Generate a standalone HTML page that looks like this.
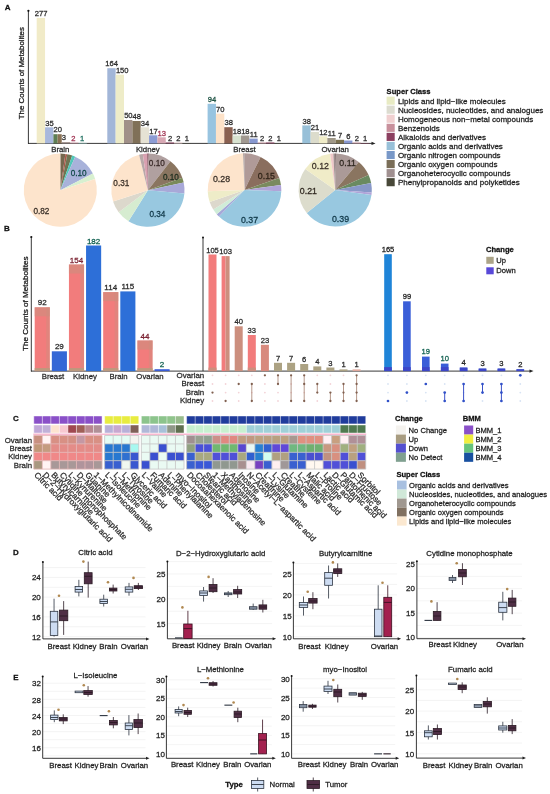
<!DOCTYPE html><html><head><meta charset="utf-8"><style>html,body{margin:0;padding:0;background:#fff;}svg{display:block;filter:blur(0.3px);}text{font-family:"Liberation Sans", sans-serif;stroke:currentColor;stroke-width:0.26px;paint-order:stroke;}</style></head><body>
<svg width="550" height="794" viewBox="0 0 550 794">
<rect x="0.00" y="0.00" width="550.00" height="794.00" fill="#ffffff" />
<text x="4.80" y="9.80" font-size="8" text-anchor="start" font-weight="bold" fill="#111" style="color:#111" >A</text>
<text x="0" y="0" font-size="7.9" text-anchor="middle" fill="#222" transform="translate(24.0,73.2) rotate(-90)">The Counts of Metabolites</text>
<line x1="28.40" y1="10.80" x2="28.40" y2="143.80" stroke="#222" stroke-width="0.9" />
<circle cx="28.40" cy="10.80" r="1.10" fill="#111"/>
<line x1="28.00" y1="143.40" x2="372.50" y2="143.40" stroke="#222" stroke-width="0.9" />
<path d="M375.5,143.4 L371.5,141.8 L371.5,145.0 Z" fill="#222"/>
<rect x="36.70" y="17.90" width="8.35" height="125.50" fill="#f1ebc8" />
<rect x="45.05" y="127.30" width="8.35" height="16.10" fill="#a8b8dc" />
<rect x="53.40" y="134.20" width="4.17" height="9.20" fill="#5e7e54" />
<rect x="57.58" y="134.20" width="4.17" height="9.20" fill="#8a7254" />
<rect x="61.75" y="142.00" width="8.35" height="1.40" fill="#a89a96" />
<rect x="70.10" y="142.60" width="8.35" height="0.80" fill="#d8a0ac" />
<rect x="78.45" y="142.90" width="8.35" height="0.50" fill="#98d8d0" />
<text x="41.08" y="16.10" font-size="7.6" text-anchor="middle" font-weight="normal" fill="#2a2a2a" style="color:#2a2a2a" >277</text>
<text x="49.43" y="125.50" font-size="7.6" text-anchor="middle" font-weight="normal" fill="#2a2a2a" style="color:#2a2a2a" >35</text>
<text x="57.78" y="132.40" font-size="7.6" text-anchor="middle" font-weight="normal" fill="#2a2a2a" style="color:#2a2a2a" >20</text>
<text x="63.92" y="140.20" font-size="7.6" text-anchor="middle" font-weight="normal" fill="#2a2a2a" style="color:#2a2a2a" >3</text>
<text x="73.27" y="140.80" font-size="7.6" text-anchor="middle" font-weight="normal" fill="#a03050" style="color:#a03050" >2</text>
<text x="82.03" y="141.10" font-size="7.6" text-anchor="middle" font-weight="normal" fill="#207060" style="color:#207060" >1</text>
<text x="60.30" y="151.80" font-size="7.8" text-anchor="middle" font-weight="normal" fill="#2a2a2a" style="color:#2a2a2a" >Brain</text>
<rect x="107.30" y="68.20" width="8.35" height="75.20" fill="#a2b6d8" />
<rect x="115.65" y="74.70" width="8.35" height="68.70" fill="#eeecc8" />
<rect x="124.00" y="120.00" width="8.35" height="23.40" fill="#a09088" />
<rect x="132.35" y="121.00" width="8.35" height="22.40" fill="#807058" />
<rect x="140.70" y="127.30" width="8.35" height="16.10" fill="#e6e2d4" />
<rect x="149.05" y="135.30" width="8.35" height="8.10" fill="#8c9cd4" />
<rect x="157.40" y="137.30" width="8.35" height="6.10" fill="#d8a8b4" />
<rect x="165.75" y="142.50" width="8.35" height="0.90" fill="#8c3a5c" />
<rect x="174.10" y="142.50" width="8.35" height="0.90" fill="#f5d8d8" />
<rect x="182.45" y="143.00" width="8.35" height="0.40" fill="#4a4a3a" />
<text x="111.67" y="66.40" font-size="7.6" text-anchor="middle" font-weight="normal" fill="#2a2a2a" style="color:#2a2a2a" >164</text>
<text x="122.22" y="72.90" font-size="7.6" text-anchor="middle" font-weight="normal" fill="#2a2a2a" style="color:#2a2a2a" >150</text>
<text x="128.38" y="118.20" font-size="7.6" text-anchor="middle" font-weight="normal" fill="#2a2a2a" style="color:#2a2a2a" >50</text>
<text x="136.72" y="119.20" font-size="7.6" text-anchor="middle" font-weight="normal" fill="#2a2a2a" style="color:#2a2a2a" >48</text>
<text x="145.07" y="125.50" font-size="7.6" text-anchor="middle" font-weight="normal" fill="#2a2a2a" style="color:#2a2a2a" >34</text>
<text x="153.43" y="133.50" font-size="7.6" text-anchor="middle" font-weight="normal" fill="#2a2a2a" style="color:#2a2a2a" >17</text>
<text x="161.77" y="135.50" font-size="7.6" text-anchor="middle" font-weight="normal" fill="#a03050" style="color:#a03050" >13</text>
<text x="170.12" y="140.70" font-size="7.6" text-anchor="middle" font-weight="normal" fill="#2a2a2a" style="color:#2a2a2a" >2</text>
<text x="178.47" y="140.70" font-size="7.6" text-anchor="middle" font-weight="normal" fill="#2a2a2a" style="color:#2a2a2a" >2</text>
<text x="186.82" y="141.20" font-size="7.6" text-anchor="middle" font-weight="normal" fill="#2a2a2a" style="color:#2a2a2a" >1</text>
<text x="147.80" y="151.80" font-size="7.8" text-anchor="middle" font-weight="normal" fill="#2a2a2a" style="color:#2a2a2a" >Kidney</text>
<rect x="207.60" y="103.80" width="8.35" height="39.60" fill="#98c4e0" />
<rect x="215.95" y="113.60" width="8.35" height="29.80" fill="#fde2c8" />
<rect x="224.30" y="127.20" width="8.35" height="16.20" fill="#8a6050" />
<rect x="232.65" y="135.50" width="8.35" height="7.90" fill="#d8e2d0" />
<rect x="241.00" y="135.50" width="8.35" height="7.90" fill="#a09890" />
<rect x="249.35" y="138.60" width="8.35" height="4.80" fill="#8898d0" />
<rect x="257.70" y="142.50" width="8.35" height="0.90" fill="#d8a0ac" />
<rect x="266.05" y="142.50" width="8.35" height="0.90" fill="#8c3a5c" />
<rect x="274.40" y="143.00" width="8.35" height="0.40" fill="#4a4a3a" />
<text x="211.97" y="102.00" font-size="7.6" text-anchor="middle" font-weight="normal" fill="#1a5040" style="color:#1a5040" >94</text>
<text x="220.32" y="111.80" font-size="7.6" text-anchor="middle" font-weight="normal" fill="#2a2a2a" style="color:#2a2a2a" >70</text>
<text x="228.67" y="125.40" font-size="7.6" text-anchor="middle" font-weight="normal" fill="#2a2a2a" style="color:#2a2a2a" >38</text>
<text x="237.02" y="133.70" font-size="7.6" text-anchor="middle" font-weight="normal" fill="#2a2a2a" style="color:#2a2a2a" >18</text>
<text x="245.38" y="133.70" font-size="7.6" text-anchor="middle" font-weight="normal" fill="#2a2a2a" style="color:#2a2a2a" >18</text>
<text x="253.72" y="136.80" font-size="7.6" text-anchor="middle" font-weight="normal" fill="#2a2a2a" style="color:#2a2a2a" >11</text>
<text x="262.07" y="140.70" font-size="7.6" text-anchor="middle" font-weight="normal" fill="#2a2a2a" style="color:#2a2a2a" >2</text>
<text x="270.43" y="140.70" font-size="7.6" text-anchor="middle" font-weight="normal" fill="#2a2a2a" style="color:#2a2a2a" >2</text>
<text x="278.77" y="141.20" font-size="7.6" text-anchor="middle" font-weight="normal" fill="#2a2a2a" style="color:#2a2a2a" >1</text>
<text x="244.50" y="151.80" font-size="7.8" text-anchor="middle" font-weight="normal" fill="#2a2a2a" style="color:#2a2a2a" >Breast</text>
<rect x="302.30" y="125.40" width="8.35" height="18.00" fill="#98c0d8" />
<rect x="310.65" y="131.90" width="8.35" height="11.50" fill="#dcdccc" />
<rect x="319.00" y="136.30" width="8.35" height="7.10" fill="#f0ecc8" />
<rect x="327.35" y="138.00" width="8.35" height="5.40" fill="#a09888" />
<rect x="335.70" y="139.80" width="8.35" height="3.60" fill="#7a7050" />
<rect x="344.05" y="140.50" width="8.35" height="2.90" fill="#8898d0" />
<rect x="352.40" y="142.50" width="8.35" height="0.90" fill="#d8a0ac" />
<rect x="360.75" y="143.00" width="8.35" height="0.40" fill="#8c3a5c" />
<text x="306.68" y="123.60" font-size="7.6" text-anchor="middle" font-weight="normal" fill="#2a2a2a" style="color:#2a2a2a" >38</text>
<text x="315.03" y="130.10" font-size="7.6" text-anchor="middle" font-weight="normal" fill="#2a2a2a" style="color:#2a2a2a" >21</text>
<text x="323.38" y="134.50" font-size="7.6" text-anchor="middle" font-weight="normal" fill="#2a2a2a" style="color:#2a2a2a" >12</text>
<text x="331.73" y="136.20" font-size="7.6" text-anchor="middle" font-weight="normal" fill="#2a2a2a" style="color:#2a2a2a" >11</text>
<text x="340.07" y="138.00" font-size="7.6" text-anchor="middle" font-weight="normal" fill="#2a2a2a" style="color:#2a2a2a" >7</text>
<text x="348.43" y="138.70" font-size="7.6" text-anchor="middle" font-weight="normal" fill="#2a2a2a" style="color:#2a2a2a" >6</text>
<text x="356.77" y="140.70" font-size="7.6" text-anchor="middle" font-weight="normal" fill="#2a2a2a" style="color:#2a2a2a" >2</text>
<text x="365.12" y="141.20" font-size="7.6" text-anchor="middle" font-weight="normal" fill="#2a2a2a" style="color:#2a2a2a" >1</text>
<text x="335.20" y="151.80" font-size="7.8" text-anchor="middle" font-weight="normal" fill="#2a2a2a" style="color:#2a2a2a" >Ovarian</text>
<path d="M60.30,190.20 L60.30,153.60 A36.60,36.60 0 0 1 65.39,153.96 Z" fill="#76684f"/>
<path d="M60.30,190.20 L65.39,153.96 A36.60,36.60 0 0 1 67.28,154.27 Z" fill="#a85848"/>
<path d="M60.30,190.20 L67.28,154.27 A36.60,36.60 0 0 1 72.22,155.59 Z" fill="#6e7452"/>
<path d="M60.30,190.20 L72.22,155.59 A36.60,36.60 0 0 1 75.19,156.76 Z" fill="#50c8b8"/>
<path d="M60.30,190.20 L75.19,156.76 A36.60,36.60 0 0 1 92.91,173.58 Z" fill="#a8b2da"/>
<path d="M60.30,190.20 L92.91,173.58 A36.60,36.60 0 0 1 95.11,178.89 Z" fill="#d8f0d0"/>
<path d="M60.30,190.20 L95.11,178.89 A36.60,36.60 0 1 1 60.30,153.60 Z" fill="#fde4cc"/>
<text x="78.60" y="176.30" font-size="8.2" text-anchor="middle" font-weight="normal" fill="#104848" style="color:#104848" >0.10</text>
<text x="41.40" y="214.10" font-size="8.2" text-anchor="middle" font-weight="normal" fill="#3a3028" style="color:#3a3028" >0.82</text>
<path d="M147.90,190.20 L147.90,153.60 A36.60,36.60 0 0 1 148.67,153.61 Z" fill="#6a3040"/>
<path d="M147.90,190.20 L148.67,153.61 A36.60,36.60 0 0 1 170.43,161.36 Z" fill="#b0a0a0"/>
<path d="M147.90,190.20 L170.43,161.36 A36.60,36.60 0 0 1 182.29,177.68 Z" fill="#8a7560"/>
<path d="M147.90,190.20 L182.29,177.68 A36.60,36.60 0 0 1 183.70,182.59 Z" fill="#7a8a5a"/>
<path d="M147.90,190.20 L183.70,182.59 A36.60,36.60 0 0 1 184.36,193.39 Z" fill="#a8a8d8"/>
<path d="M147.90,190.20 L184.36,193.39 A36.60,36.60 0 0 1 128.50,221.24 Z" fill="#98c8e0"/>
<path d="M147.90,190.20 L128.50,221.24 A36.60,36.60 0 0 1 118.67,212.23 Z" fill="#d6ecd0"/>
<path d="M147.90,190.20 L118.67,212.23 A36.60,36.60 0 0 1 113.09,201.51 Z" fill="#dcd8cc"/>
<path d="M147.90,190.20 L113.09,201.51 A36.60,36.60 0 0 1 139.05,154.69 Z" fill="#fde4cc"/>
<path d="M147.90,190.20 L139.05,154.69 A36.60,36.60 0 0 1 142.81,153.96 Z" fill="#b8a8a8"/>
<path d="M147.90,190.20 L142.81,153.96 A36.60,36.60 0 0 1 147.26,153.61 Z" fill="#d8a0b0"/>
<path d="M147.90,190.20 L147.26,153.61 A36.60,36.60 0 0 1 147.90,153.60 Z" fill="#6a3040"/>
<text x="156.80" y="165.50" font-size="8.2" text-anchor="middle" font-weight="normal" fill="#3a2a28" style="color:#3a2a28" >0.10</text>
<text x="170.90" y="179.60" font-size="8.2" text-anchor="middle" font-weight="normal" fill="#203020" style="color:#203020" >0.10</text>
<text x="121.30" y="186.40" font-size="8.2" text-anchor="middle" font-weight="normal" fill="#3a3028" style="color:#3a3028" >0.31</text>
<text x="157.40" y="216.50" font-size="8.2" text-anchor="middle" font-weight="normal" fill="#103848" style="color:#103848" >0.34</text>
<path d="M244.50,190.00 L244.50,153.20 A36.80,36.80 0 0 1 260.63,156.92 Z" fill="#b09a98"/>
<path d="M244.50,190.00 L260.63,156.92 A36.80,36.80 0 0 1 279.30,178.02 Z" fill="#8a6e5e"/>
<path d="M244.50,190.00 L279.30,178.02 A36.80,36.80 0 0 1 280.94,184.88 Z" fill="#7a8a5e"/>
<path d="M244.50,190.00 L280.94,184.88 A36.80,36.80 0 0 1 281.28,191.28 Z" fill="#b0a4d8"/>
<path d="M244.50,190.00 L281.28,191.28 A36.80,36.80 0 0 1 218.94,216.47 Z" fill="#98c8e0"/>
<path d="M244.50,190.00 L218.94,216.47 A36.80,36.80 0 0 1 216.73,214.14 Z" fill="#a4a8d8"/>
<path d="M244.50,190.00 L216.73,214.14 A36.80,36.80 0 0 1 213.29,209.50 Z" fill="#d0ecd8"/>
<path d="M244.50,190.00 L213.29,209.50 A36.80,36.80 0 0 1 209.70,201.98 Z" fill="#dcd8cc"/>
<path d="M244.50,190.00 L209.70,201.98 A36.80,36.80 0 0 1 207.72,191.28 Z" fill="#eeecc8"/>
<path d="M244.50,190.00 L207.72,191.28 A36.80,36.80 0 0 1 243.22,153.22 Z" fill="#fde4cc"/>
<path d="M244.50,190.00 L243.22,153.22 A36.80,36.80 0 0 1 244.50,153.20 Z" fill="#a09090"/>
<text x="266.40" y="178.60" font-size="8.8" text-anchor="middle" font-weight="normal" fill="#302418" style="color:#302418" >0.15</text>
<text x="221.50" y="181.90" font-size="8.8" text-anchor="middle" font-weight="normal" fill="#3a3028" style="color:#3a3028" >0.28</text>
<text x="249.50" y="223.20" font-size="8.8" text-anchor="middle" font-weight="normal" fill="#103848" style="color:#103848" >0.37</text>
<path d="M335.20,190.00 L335.20,153.40 A36.60,36.60 0 0 1 335.97,153.41 Z" fill="#5a4040"/>
<path d="M335.20,190.00 L335.97,153.41 A36.60,36.60 0 0 1 358.73,161.96 Z" fill="#ab9a98"/>
<path d="M335.20,190.00 L358.73,161.96 A36.60,36.60 0 0 1 368.64,175.11 Z" fill="#8a7560"/>
<path d="M335.20,190.00 L368.64,175.11 A36.60,36.60 0 0 1 371.13,183.02 Z" fill="#6a8a60"/>
<path d="M335.20,190.00 L371.13,183.02 A36.60,36.60 0 0 1 371.71,192.55 Z" fill="#8898c8"/>
<path d="M335.20,190.00 L371.71,192.55 A36.60,36.60 0 0 1 371.44,195.09 Z" fill="#b0a4d8"/>
<path d="M335.20,190.00 L371.44,195.09 A36.60,36.60 0 0 1 306.76,213.03 Z" fill="#98c8e0"/>
<path d="M335.20,190.00 L306.76,213.03 A36.60,36.60 0 0 1 305.22,169.01 Z" fill="#dcdccc"/>
<path d="M335.20,190.00 L305.22,169.01 A36.60,36.60 0 0 1 330.11,153.76 Z" fill="#f0ecc8"/>
<path d="M335.20,190.00 L330.11,153.76 A36.60,36.60 0 0 1 333.28,153.45 Z" fill="#f0c8c8"/>
<path d="M335.20,190.00 L333.28,153.45 A36.60,36.60 0 0 1 335.20,153.40 Z" fill="#a09090"/>
<text x="347.60" y="166.10" font-size="8.8" text-anchor="middle" font-weight="normal" fill="#302820" style="color:#302820" >0.11</text>
<text x="320.40" y="169.20" font-size="8.8" text-anchor="middle" font-weight="normal" fill="#3a3028" style="color:#3a3028" >0.12</text>
<text x="308.40" y="193.70" font-size="8.8" text-anchor="middle" font-weight="normal" fill="#302820" style="color:#302820" >0.21</text>
<text x="340.50" y="221.90" font-size="8.8" text-anchor="middle" font-weight="normal" fill="#103848" style="color:#103848" >0.39</text>
<text x="386.60" y="94.20" font-size="7.6" text-anchor="start" font-weight="bold" fill="#111" style="color:#111" >Super Class</text>
<rect x="386.60" y="96.60" width="8.10" height="8.10" fill="#e8ebc4" />
<text x="397.90" y="103.50" font-size="8.0" text-anchor="start" font-weight="normal" fill="#222" style="color:#222" >Lipids and lipid−like molecules</text>
<rect x="386.60" y="105.66" width="8.10" height="8.10" fill="#dcdcd0" />
<text x="397.90" y="112.56" font-size="8.0" text-anchor="start" font-weight="normal" fill="#222" style="color:#222" >Nucleosides, nucleotides, and analogues</text>
<rect x="386.60" y="114.72" width="8.10" height="8.10" fill="#f0d0d0" />
<text x="397.90" y="121.62" font-size="8.0" text-anchor="start" font-weight="normal" fill="#222" style="color:#222" >Homogeneous non−metal compounds</text>
<rect x="386.60" y="123.78" width="8.10" height="8.10" fill="#c8909c" />
<text x="397.90" y="130.68" font-size="8.0" text-anchor="start" font-weight="normal" fill="#222" style="color:#222" >Benzenoids</text>
<rect x="386.60" y="132.84" width="8.10" height="8.10" fill="#8c4060" />
<text x="397.90" y="139.74" font-size="8.0" text-anchor="start" font-weight="normal" fill="#222" style="color:#222" >Alkaloids and derivatives</text>
<rect x="386.60" y="141.90" width="8.10" height="8.10" fill="#98c0d8" />
<text x="397.90" y="148.80" font-size="8.0" text-anchor="start" font-weight="normal" fill="#222" style="color:#222" >Organic acids and derivatives</text>
<rect x="386.60" y="150.96" width="8.10" height="8.10" fill="#7898c8" />
<text x="397.90" y="157.86" font-size="8.0" text-anchor="start" font-weight="normal" fill="#222" style="color:#222" >Organic nitrogen compounds</text>
<rect x="386.60" y="160.02" width="8.10" height="8.10" fill="#7a6e58" />
<text x="397.90" y="166.92" font-size="8.0" text-anchor="start" font-weight="normal" fill="#222" style="color:#222" >Organic oxygen compounds</text>
<rect x="386.60" y="169.08" width="8.10" height="8.10" fill="#a09090" />
<text x="397.90" y="175.98" font-size="8.0" text-anchor="start" font-weight="normal" fill="#222" style="color:#222" >Organoheterocyclic compounds</text>
<rect x="386.60" y="178.14" width="8.10" height="8.10" fill="#484838" />
<text x="397.90" y="185.04" font-size="8.0" text-anchor="start" font-weight="normal" fill="#222" style="color:#222" >Phenylpropanoids and polyketides</text>
<text x="4.00" y="231.40" font-size="8" text-anchor="start" font-weight="bold" fill="#111" style="color:#111" >B</text>
<text x="0" y="0" font-size="8.1" text-anchor="middle" fill="#222" transform="translate(27.7,303.8) rotate(-90)">The Counts of Metabolites</text>
<line x1="31.30" y1="237.00" x2="31.30" y2="371.50" stroke="#222" stroke-width="0.9" />
<circle cx="31.30" cy="237.00" r="1.10" fill="#111"/>
<line x1="31.00" y1="371.10" x2="530.50" y2="371.10" stroke="#222" stroke-width="0.9" />
<path d="M533.5,371.1 L529.5,369.5 L529.5,372.70000000000005 Z" fill="#222"/>
<rect x="34.70" y="307.30" width="15.10" height="63.80" fill="#f27c7c" />
<rect x="34.70" y="307.30" width="15.10" height="9.00" fill="#cc8f7e" opacity="0.6"/>
<rect x="46.20" y="307.30" width="3.60" height="63.80" fill="#cc8f7e" opacity="0.45"/>
<rect x="34.70" y="368.10" width="15.10" height="3.00" fill="#bc9a7e" />
<text x="42.25" y="305.30" font-size="8.0" text-anchor="middle" font-weight="normal" fill="#2a2a2a" style="color:#2a2a2a" >92</text>
<rect x="51.82" y="351.30" width="15.10" height="19.80" fill="#3468d6" />
<text x="59.37" y="349.30" font-size="8.0" text-anchor="middle" font-weight="normal" fill="#2a2a2a" style="color:#2a2a2a" >29</text>
<rect x="68.94" y="264.50" width="15.10" height="106.60" fill="#f27c7c" />
<rect x="68.94" y="264.50" width="15.10" height="9.00" fill="#cc8f7e" opacity="0.6"/>
<rect x="80.44" y="264.50" width="3.60" height="106.60" fill="#cc8f7e" opacity="0.45"/>
<rect x="68.94" y="368.10" width="15.10" height="3.00" fill="#bc9a7e" />
<text x="76.49" y="262.50" font-size="8.0" text-anchor="middle" font-weight="normal" fill="#7a2030" style="color:#7a2030" >154</text>
<rect x="86.06" y="245.50" width="15.10" height="125.60" fill="#2d6fd8" />
<text x="93.61" y="243.50" font-size="8.0" text-anchor="middle" font-weight="normal" fill="#106050" style="color:#106050" >182</text>
<rect x="103.18" y="292.10" width="15.10" height="79.00" fill="#f27c7c" />
<rect x="103.18" y="292.10" width="15.10" height="9.00" fill="#cc8f7e" opacity="0.6"/>
<rect x="114.68" y="292.10" width="3.60" height="79.00" fill="#cc8f7e" opacity="0.45"/>
<rect x="103.18" y="368.10" width="15.10" height="3.00" fill="#bc9a7e" />
<text x="110.73" y="290.10" font-size="8.0" text-anchor="middle" font-weight="normal" fill="#2a2a2a" style="color:#2a2a2a" >114</text>
<rect x="120.30" y="291.40" width="15.10" height="79.70" fill="#2d6fd8" />
<text x="127.85" y="289.40" font-size="8.0" text-anchor="middle" font-weight="normal" fill="#2a2a2a" style="color:#2a2a2a" >115</text>
<rect x="137.42" y="340.50" width="15.10" height="30.60" fill="#f27c7c" />
<rect x="137.42" y="340.50" width="15.10" height="9.00" fill="#cc8f7e" opacity="0.6"/>
<rect x="148.92" y="340.50" width="3.60" height="30.60" fill="#cc8f7e" opacity="0.45"/>
<rect x="137.42" y="368.10" width="15.10" height="3.00" fill="#bc9a7e" />
<text x="144.97" y="338.50" font-size="8.0" text-anchor="middle" font-weight="normal" fill="#7a2030" style="color:#7a2030" >44</text>
<rect x="154.54" y="369.20" width="15.10" height="1.90" fill="#3a5cd6" />
<text x="162.09" y="367.20" font-size="8.0" text-anchor="middle" font-weight="normal" fill="#106050" style="color:#106050" >2</text>
<text x="53.00" y="379.00" font-size="7.8" text-anchor="middle" font-weight="normal" fill="#2a2a2a" style="color:#2a2a2a" >Breast</text>
<text x="85.00" y="379.00" font-size="7.8" text-anchor="middle" font-weight="normal" fill="#2a2a2a" style="color:#2a2a2a" >Kidney</text>
<text x="118.60" y="379.00" font-size="7.8" text-anchor="middle" font-weight="normal" fill="#2a2a2a" style="color:#2a2a2a" >Brain</text>
<text x="150.00" y="379.00" font-size="7.8" text-anchor="middle" font-weight="normal" fill="#2a2a2a" style="color:#2a2a2a" >Ovarian</text>
<line x1="203.00" y1="237.50" x2="203.00" y2="371.10" stroke="#222" stroke-width="0.9" />
<circle cx="203.00" cy="237.50" r="1.00" fill="#111"/>
<rect x="208.50" y="254.50" width="8.00" height="116.60" fill="#f27c7c" />
<rect x="208.50" y="367.60" width="8.00" height="3.50" fill="#cc8f7e" />
<text x="212.50" y="252.50" font-size="7.6" text-anchor="middle" font-weight="normal" fill="#2a2a2a" style="color:#2a2a2a" >105</text>
<rect x="221.60" y="256.10" width="4.00" height="115.00" fill="#f27c7c" />
<rect x="225.60" y="256.10" width="4.00" height="115.00" fill="#cc8f7e" />
<text x="225.60" y="254.10" font-size="7.6" text-anchor="middle" font-weight="normal" fill="#2a2a2a" style="color:#2a2a2a" >103</text>
<rect x="234.70" y="326.30" width="8.00" height="44.80" fill="#cc8f7e" />
<text x="238.70" y="324.30" font-size="7.6" text-anchor="middle" font-weight="normal" fill="#2a2a2a" style="color:#2a2a2a" >40</text>
<rect x="247.80" y="335.00" width="8.00" height="36.10" fill="#f27c7c" />
<rect x="247.80" y="367.60" width="8.00" height="3.50" fill="#cc8f7e" />
<text x="251.80" y="333.00" font-size="7.6" text-anchor="middle" font-weight="normal" fill="#2a2a2a" style="color:#2a2a2a" >33</text>
<rect x="260.90" y="344.80" width="8.00" height="26.30" fill="#d88a7e" />
<text x="264.90" y="342.80" font-size="7.6" text-anchor="middle" font-weight="normal" fill="#2a2a2a" style="color:#2a2a2a" >23</text>
<rect x="274.00" y="362.80" width="8.00" height="8.30" fill="#aca283" />
<text x="278.00" y="360.80" font-size="7.6" text-anchor="middle" font-weight="normal" fill="#2a2a2a" style="color:#2a2a2a" >7</text>
<rect x="287.10" y="362.80" width="8.00" height="8.30" fill="#aca283" />
<text x="291.10" y="360.80" font-size="7.6" text-anchor="middle" font-weight="normal" fill="#2a2a2a" style="color:#2a2a2a" >7</text>
<rect x="300.20" y="364.00" width="8.00" height="7.10" fill="#aca283" />
<text x="304.20" y="362.00" font-size="7.6" text-anchor="middle" font-weight="normal" fill="#2a2a2a" style="color:#2a2a2a" >6</text>
<rect x="313.30" y="366.40" width="8.00" height="4.70" fill="#aca283" />
<text x="317.30" y="364.40" font-size="7.6" text-anchor="middle" font-weight="normal" fill="#2a2a2a" style="color:#2a2a2a" >4</text>
<rect x="326.40" y="367.50" width="8.00" height="3.60" fill="#aca283" />
<text x="330.40" y="365.50" font-size="7.6" text-anchor="middle" font-weight="normal" fill="#2a2a2a" style="color:#2a2a2a" >3</text>
<rect x="339.50" y="369.40" width="8.00" height="1.70" fill="#aca283" />
<text x="343.50" y="367.40" font-size="7.6" text-anchor="middle" font-weight="normal" fill="#2a2a2a" style="color:#2a2a2a" >1</text>
<rect x="352.60" y="369.40" width="8.00" height="1.70" fill="#e0a89c" />
<text x="356.60" y="367.40" font-size="7.6" text-anchor="middle" font-weight="normal" fill="#2a2a2a" style="color:#2a2a2a" >1</text>
<text x="204.20" y="377.50" font-size="7.9" text-anchor="end" font-weight="normal" fill="#2a2a2a" style="color:#2a2a2a" >Ovarian</text>
<text x="204.20" y="386.20" font-size="7.9" text-anchor="end" font-weight="normal" fill="#2a2a2a" style="color:#2a2a2a" >Breast</text>
<text x="204.20" y="394.80" font-size="7.9" text-anchor="end" font-weight="normal" fill="#2a2a2a" style="color:#2a2a2a" >Brain</text>
<text x="204.20" y="403.20" font-size="7.9" text-anchor="end" font-weight="normal" fill="#2a2a2a" style="color:#2a2a2a" >Kidney</text>
<circle cx="212.50" cy="375.30" r="0.90" fill="#f3d4d8"/>
<circle cx="212.50" cy="384.00" r="0.90" fill="#f3d4d8"/>
<circle cx="212.50" cy="401.00" r="0.90" fill="#f3d4d8"/>
<circle cx="212.50" cy="392.60" r="1.15" fill="#806050"/>
<circle cx="225.60" cy="375.30" r="0.90" fill="#f3d4d8"/>
<circle cx="225.60" cy="384.00" r="0.90" fill="#f3d4d8"/>
<circle cx="225.60" cy="392.60" r="0.90" fill="#f3d4d8"/>
<circle cx="225.60" cy="401.00" r="1.15" fill="#806050"/>
<circle cx="238.70" cy="375.30" r="0.90" fill="#f3d4d8"/>
<circle cx="238.70" cy="392.60" r="0.90" fill="#f3d4d8"/>
<circle cx="238.70" cy="401.00" r="0.90" fill="#f3d4d8"/>
<circle cx="238.70" cy="384.00" r="1.15" fill="#806050"/>
<circle cx="251.80" cy="375.30" r="0.90" fill="#f3d4d8"/>
<circle cx="251.80" cy="392.60" r="0.90" fill="#f3d4d8"/>
<line x1="251.80" y1="384.00" x2="251.80" y2="401.00" stroke="#a88474" stroke-width="0.85" />
<circle cx="251.80" cy="384.00" r="1.15" fill="#806050"/>
<circle cx="251.80" cy="401.00" r="1.15" fill="#806050"/>
<circle cx="264.90" cy="384.00" r="0.90" fill="#f3d4d8"/>
<circle cx="264.90" cy="392.60" r="0.90" fill="#f3d4d8"/>
<circle cx="264.90" cy="401.00" r="0.90" fill="#f3d4d8"/>
<circle cx="264.90" cy="375.30" r="1.15" fill="#806050"/>
<circle cx="278.00" cy="392.60" r="0.90" fill="#f3d4d8"/>
<circle cx="278.00" cy="401.00" r="0.90" fill="#f3d4d8"/>
<line x1="278.00" y1="375.30" x2="278.00" y2="384.00" stroke="#a88474" stroke-width="0.85" />
<circle cx="278.00" cy="375.30" r="1.15" fill="#806050"/>
<circle cx="278.00" cy="384.00" r="1.15" fill="#806050"/>
<circle cx="291.10" cy="384.00" r="0.90" fill="#f3d4d8"/>
<circle cx="291.10" cy="392.60" r="0.90" fill="#f3d4d8"/>
<line x1="291.10" y1="375.30" x2="291.10" y2="401.00" stroke="#a88474" stroke-width="0.85" />
<circle cx="291.10" cy="375.30" r="1.15" fill="#806050"/>
<circle cx="291.10" cy="401.00" r="1.15" fill="#806050"/>
<circle cx="304.20" cy="392.60" r="0.90" fill="#f3d4d8"/>
<line x1="304.20" y1="375.30" x2="304.20" y2="401.00" stroke="#a88474" stroke-width="0.85" />
<circle cx="304.20" cy="375.30" r="1.15" fill="#806050"/>
<circle cx="304.20" cy="384.00" r="1.15" fill="#806050"/>
<circle cx="304.20" cy="401.00" r="1.15" fill="#806050"/>
<circle cx="317.30" cy="375.30" r="0.90" fill="#f3d4d8"/>
<circle cx="317.30" cy="401.00" r="0.90" fill="#f3d4d8"/>
<line x1="317.30" y1="384.00" x2="317.30" y2="392.60" stroke="#a88474" stroke-width="0.85" />
<circle cx="317.30" cy="384.00" r="1.15" fill="#806050"/>
<circle cx="317.30" cy="392.60" r="1.15" fill="#806050"/>
<circle cx="330.40" cy="375.30" r="0.90" fill="#f3d4d8"/>
<circle cx="330.40" cy="384.00" r="0.90" fill="#f3d4d8"/>
<line x1="330.40" y1="392.60" x2="330.40" y2="401.00" stroke="#a88474" stroke-width="0.85" />
<circle cx="330.40" cy="392.60" r="1.15" fill="#806050"/>
<circle cx="330.40" cy="401.00" r="1.15" fill="#806050"/>
<circle cx="343.50" cy="375.30" r="0.90" fill="#f3d4d8"/>
<line x1="343.50" y1="384.00" x2="343.50" y2="401.00" stroke="#a88474" stroke-width="0.85" />
<circle cx="343.50" cy="384.00" r="1.15" fill="#806050"/>
<circle cx="343.50" cy="392.60" r="1.15" fill="#806050"/>
<circle cx="343.50" cy="401.00" r="1.15" fill="#806050"/>
<line x1="356.60" y1="375.30" x2="356.60" y2="401.00" stroke="#a88474" stroke-width="0.85" />
<circle cx="356.60" cy="375.30" r="1.15" fill="#806050"/>
<circle cx="356.60" cy="384.00" r="1.15" fill="#806050"/>
<circle cx="356.60" cy="392.60" r="1.15" fill="#806050"/>
<circle cx="356.60" cy="401.00" r="1.15" fill="#806050"/>
<rect x="384.20" y="254.20" width="7.60" height="116.90" fill="#1f84d8" />
<rect x="384.20" y="367.10" width="7.60" height="4.00" fill="#3d46c8" />
<text x="388.00" y="251.90" font-size="7.6" text-anchor="middle" font-weight="normal" fill="#222" style="color:#222" >165</text>
<rect x="403.10" y="301.30" width="7.60" height="69.80" fill="#3a5ed8" />
<rect x="403.10" y="367.10" width="7.60" height="4.00" fill="#3d46c8" />
<text x="406.90" y="299.00" font-size="7.6" text-anchor="middle" font-weight="normal" fill="#222" style="color:#222" >99</text>
<rect x="422.00" y="356.60" width="7.60" height="14.50" fill="#3a5ed8" />
<rect x="422.00" y="367.10" width="7.60" height="4.00" fill="#3d46c8" />
<text x="425.80" y="354.30" font-size="7.6" text-anchor="middle" font-weight="normal" fill="#106050" style="color:#106050" >19</text>
<rect x="440.90" y="363.60" width="7.60" height="7.50" fill="#3a5ed8" />
<rect x="440.90" y="367.10" width="7.60" height="4.00" fill="#3d46c8" />
<text x="444.70" y="361.30" font-size="7.6" text-anchor="middle" font-weight="normal" fill="#106050" style="color:#106050" >10</text>
<rect x="459.80" y="367.60" width="7.60" height="3.50" fill="#3a5ed8" />
<rect x="459.80" y="367.60" width="7.60" height="3.50" fill="#3d46c8" />
<text x="463.60" y="365.30" font-size="7.6" text-anchor="middle" font-weight="normal" fill="#222" style="color:#222" >4</text>
<rect x="478.70" y="368.60" width="7.60" height="2.50" fill="#3a5ed8" />
<rect x="478.70" y="368.60" width="7.60" height="2.50" fill="#3d46c8" />
<text x="482.50" y="366.30" font-size="7.6" text-anchor="middle" font-weight="normal" fill="#222" style="color:#222" >3</text>
<rect x="497.60" y="368.60" width="7.60" height="2.50" fill="#3a5ed8" />
<rect x="497.60" y="368.60" width="7.60" height="2.50" fill="#3d46c8" />
<text x="501.40" y="366.30" font-size="7.6" text-anchor="middle" font-weight="normal" fill="#222" style="color:#222" >3</text>
<rect x="516.50" y="369.30" width="7.60" height="1.80" fill="#3a5ed8" />
<rect x="516.50" y="369.30" width="7.60" height="1.80" fill="#3d46c8" />
<text x="520.30" y="367.00" font-size="7.6" text-anchor="middle" font-weight="normal" fill="#222" style="color:#222" >2</text>
<circle cx="388.00" cy="375.30" r="0.90" fill="#d8e4f4"/>
<circle cx="388.00" cy="384.00" r="0.90" fill="#d8e4f4"/>
<circle cx="388.00" cy="392.60" r="0.90" fill="#d8e4f4"/>
<circle cx="388.00" cy="401.00" r="1.35" fill="#3050c8"/>
<circle cx="406.90" cy="375.30" r="0.90" fill="#d8e4f4"/>
<circle cx="406.90" cy="384.00" r="0.90" fill="#d8e4f4"/>
<circle cx="406.90" cy="401.00" r="0.90" fill="#d8e4f4"/>
<circle cx="406.90" cy="392.60" r="1.35" fill="#3050c8"/>
<circle cx="425.80" cy="375.30" r="0.90" fill="#d8e4f4"/>
<circle cx="425.80" cy="392.60" r="0.90" fill="#d8e4f4"/>
<circle cx="425.80" cy="401.00" r="0.90" fill="#d8e4f4"/>
<circle cx="425.80" cy="384.00" r="1.35" fill="#3050c8"/>
<circle cx="444.70" cy="375.30" r="0.90" fill="#d8e4f4"/>
<circle cx="444.70" cy="384.00" r="0.90" fill="#d8e4f4"/>
<line x1="444.70" y1="392.60" x2="444.70" y2="401.00" stroke="#3a50c8" stroke-width="1.0" />
<circle cx="444.70" cy="392.60" r="1.35" fill="#3050c8"/>
<circle cx="444.70" cy="401.00" r="1.35" fill="#3050c8"/>
<circle cx="463.60" cy="375.30" r="0.90" fill="#d8e4f4"/>
<circle cx="463.60" cy="392.60" r="0.90" fill="#d8e4f4"/>
<line x1="463.60" y1="384.00" x2="463.60" y2="401.00" stroke="#3a50c8" stroke-width="1.0" />
<circle cx="463.60" cy="384.00" r="1.35" fill="#3050c8"/>
<circle cx="463.60" cy="401.00" r="1.35" fill="#3050c8"/>
<circle cx="482.50" cy="375.30" r="0.90" fill="#d8e4f4"/>
<circle cx="482.50" cy="401.00" r="0.90" fill="#d8e4f4"/>
<line x1="482.50" y1="384.00" x2="482.50" y2="392.60" stroke="#3a50c8" stroke-width="1.0" />
<circle cx="482.50" cy="384.00" r="1.35" fill="#3050c8"/>
<circle cx="482.50" cy="392.60" r="1.35" fill="#3050c8"/>
<circle cx="501.40" cy="375.30" r="0.90" fill="#d8e4f4"/>
<line x1="501.40" y1="384.00" x2="501.40" y2="401.00" stroke="#3a50c8" stroke-width="1.0" />
<circle cx="501.40" cy="384.00" r="1.35" fill="#3050c8"/>
<circle cx="501.40" cy="392.60" r="1.35" fill="#3050c8"/>
<circle cx="501.40" cy="401.00" r="1.35" fill="#3050c8"/>
<circle cx="520.30" cy="384.00" r="0.90" fill="#d8e4f4"/>
<circle cx="520.30" cy="392.60" r="0.90" fill="#d8e4f4"/>
<circle cx="520.30" cy="401.00" r="0.90" fill="#d8e4f4"/>
<circle cx="520.30" cy="375.30" r="1.35" fill="#3050c8"/>
<text x="486.00" y="251.60" font-size="7.6" text-anchor="start" font-weight="bold" fill="#111" style="color:#111" >Change</text>
<rect x="486.30" y="256.80" width="7.40" height="7.00" fill="#aca488" />
<text x="496.20" y="262.70" font-size="7.6" text-anchor="start" font-weight="normal" fill="#222" style="color:#222" >Up</text>
<rect x="486.30" y="267.30" width="7.40" height="7.00" fill="#5848d8" />
<text x="496.20" y="273.20" font-size="7.6" text-anchor="start" font-weight="normal" fill="#222" style="color:#222" >Down</text>
<text x="12.90" y="420.90" font-size="7.9" text-anchor="start" font-weight="bold" fill="#111" style="color:#111" >C</text>
<rect x="33.80" y="416.00" width="8.53" height="7.70" fill="#8a50c8" />
<rect x="33.80" y="425.00" width="8.53" height="8.00" fill="#c0a8d8" />
<rect x="33.80" y="435.50" width="8.53" height="8.40" fill="#c89080" />
<rect x="33.80" y="443.90" width="8.53" height="8.40" fill="#c09878" />
<rect x="33.80" y="452.30" width="8.53" height="8.40" fill="#f08888" />
<rect x="33.80" y="460.70" width="8.53" height="8.40" fill="#a89880" />
<text x="0" y="0" font-size="8.25" fill="#2a2a2a" style="color:#2a2a2a" transform="translate(33.66,475.60) rotate(45)">Citric acid</text>
<rect x="42.33" y="416.00" width="8.53" height="7.70" fill="#8a50c8" />
<rect x="42.33" y="425.00" width="8.53" height="8.00" fill="#c0b0d8" />
<rect x="42.33" y="435.50" width="8.53" height="8.40" fill="#fff4f4" />
<rect x="42.33" y="443.90" width="8.53" height="8.40" fill="#c49c80" />
<rect x="42.33" y="452.30" width="8.53" height="8.40" fill="#f08888" />
<rect x="42.33" y="460.70" width="8.53" height="8.40" fill="#fff4f4" />
<text x="0" y="0" font-size="8.25" fill="#2a2a2a" style="color:#2a2a2a" transform="translate(42.20,475.60) rotate(45)">D−2−Hydroxyglutaric acid</text>
<rect x="50.86" y="416.00" width="8.53" height="7.70" fill="#8a50c8" />
<rect x="50.86" y="425.00" width="8.53" height="8.00" fill="#fde4d0" />
<rect x="50.86" y="435.50" width="8.53" height="8.40" fill="#d89084" />
<rect x="50.86" y="443.90" width="8.53" height="8.40" fill="#e48c88" />
<rect x="50.86" y="452.30" width="8.53" height="8.40" fill="#f08888" />
<rect x="50.86" y="460.70" width="8.53" height="8.40" fill="#a89898" />
<text x="0" y="0" font-size="8.25" fill="#2a2a2a" style="color:#2a2a2a" transform="translate(50.73,475.60) rotate(45)">Butyrylcarnitine</text>
<rect x="59.39" y="416.00" width="8.53" height="7.70" fill="#8a50c8" />
<rect x="59.39" y="425.00" width="8.53" height="8.00" fill="#f8c8d0" />
<rect x="59.39" y="435.50" width="8.53" height="8.40" fill="#d89084" />
<rect x="59.39" y="443.90" width="8.53" height="8.40" fill="#e48c88" />
<rect x="59.39" y="452.30" width="8.53" height="8.40" fill="#f08888" />
<rect x="59.39" y="460.70" width="8.53" height="8.40" fill="#a89898" />
<text x="0" y="0" font-size="8.25" fill="#2a2a2a" style="color:#2a2a2a" transform="translate(59.25,475.60) rotate(45)">Cytidine monophosphate</text>
<rect x="67.92" y="416.00" width="8.53" height="7.70" fill="#8a50c8" />
<rect x="67.92" y="425.00" width="8.53" height="8.00" fill="#a04850" />
<rect x="67.92" y="435.50" width="8.53" height="8.40" fill="#d49084" />
<rect x="67.92" y="443.90" width="8.53" height="8.40" fill="#e48c88" />
<rect x="67.92" y="452.30" width="8.53" height="8.40" fill="#f08888" />
<rect x="67.92" y="460.70" width="8.53" height="8.40" fill="#a89898" />
<text x="0" y="0" font-size="8.25" fill="#2a2a2a" style="color:#2a2a2a" transform="translate(67.78,475.60) rotate(45)">L−Kynurenine</text>
<rect x="76.45" y="416.00" width="8.53" height="7.70" fill="#8a50c8" />
<rect x="76.45" y="425.00" width="8.53" height="8.00" fill="#a06058" />
<rect x="76.45" y="435.50" width="8.53" height="8.40" fill="#c498a4" />
<rect x="76.45" y="443.90" width="8.53" height="8.40" fill="#e48c88" />
<rect x="76.45" y="452.30" width="8.53" height="8.40" fill="#f08888" />
<rect x="76.45" y="460.70" width="8.53" height="8.40" fill="#b0949c" />
<text x="0" y="0" font-size="8.25" fill="#2a2a2a" style="color:#2a2a2a" transform="translate(76.31,475.60) rotate(45)">D−Maltose</text>
<rect x="84.98" y="416.00" width="8.53" height="7.70" fill="#8a50c8" />
<rect x="84.98" y="425.00" width="8.53" height="8.00" fill="#b88890" />
<rect x="84.98" y="435.50" width="8.53" height="8.40" fill="#d89084" />
<rect x="84.98" y="443.90" width="8.53" height="8.40" fill="#e48c88" />
<rect x="84.98" y="452.30" width="8.53" height="8.40" fill="#f08888" />
<rect x="84.98" y="460.70" width="8.53" height="8.40" fill="#b0949c" />
<text x="0" y="0" font-size="8.25" fill="#2a2a2a" style="color:#2a2a2a" transform="translate(84.84,475.60) rotate(45)">Guanine</text>
<rect x="93.51" y="416.00" width="8.53" height="7.70" fill="#8a50c8" />
<rect x="93.51" y="425.00" width="8.53" height="8.00" fill="#b09098" />
<rect x="93.51" y="435.50" width="8.53" height="8.40" fill="#d89084" />
<rect x="93.51" y="443.90" width="8.53" height="8.40" fill="#e48c88" />
<rect x="93.51" y="452.30" width="8.53" height="8.40" fill="#f08888" />
<rect x="93.51" y="460.70" width="8.53" height="8.40" fill="#a89898" />
<text x="0" y="0" font-size="8.25" fill="#2a2a2a" style="color:#2a2a2a" transform="translate(93.37,475.60) rotate(45)">1−Methylnicotinamide</text>
<line x1="33.80" y1="416.00" x2="33.80" y2="433.00" stroke="rgba(255,255,255,0.55)" stroke-width="0.8" />
<line x1="33.80" y1="435.50" x2="33.80" y2="469.10" stroke="#e2b4b4" stroke-width="0.8" />
<line x1="42.33" y1="416.00" x2="42.33" y2="433.00" stroke="rgba(255,255,255,0.55)" stroke-width="0.8" />
<line x1="42.33" y1="435.50" x2="42.33" y2="469.10" stroke="#e2b4b4" stroke-width="0.8" />
<line x1="50.86" y1="416.00" x2="50.86" y2="433.00" stroke="rgba(255,255,255,0.55)" stroke-width="0.8" />
<line x1="50.86" y1="435.50" x2="50.86" y2="469.10" stroke="#e2b4b4" stroke-width="0.8" />
<line x1="59.39" y1="416.00" x2="59.39" y2="433.00" stroke="rgba(255,255,255,0.55)" stroke-width="0.8" />
<line x1="59.39" y1="435.50" x2="59.39" y2="469.10" stroke="#e2b4b4" stroke-width="0.8" />
<line x1="67.92" y1="416.00" x2="67.92" y2="433.00" stroke="rgba(255,255,255,0.55)" stroke-width="0.8" />
<line x1="67.92" y1="435.50" x2="67.92" y2="469.10" stroke="#e2b4b4" stroke-width="0.8" />
<line x1="76.45" y1="416.00" x2="76.45" y2="433.00" stroke="rgba(255,255,255,0.55)" stroke-width="0.8" />
<line x1="76.45" y1="435.50" x2="76.45" y2="469.10" stroke="#e2b4b4" stroke-width="0.8" />
<line x1="84.98" y1="416.00" x2="84.98" y2="433.00" stroke="rgba(255,255,255,0.55)" stroke-width="0.8" />
<line x1="84.98" y1="435.50" x2="84.98" y2="469.10" stroke="#e2b4b4" stroke-width="0.8" />
<line x1="93.51" y1="416.00" x2="93.51" y2="433.00" stroke="rgba(255,255,255,0.55)" stroke-width="0.8" />
<line x1="93.51" y1="435.50" x2="93.51" y2="469.10" stroke="#e2b4b4" stroke-width="0.8" />
<line x1="102.04" y1="416.00" x2="102.04" y2="433.00" stroke="rgba(255,255,255,0.55)" stroke-width="0.8" />
<line x1="102.04" y1="435.50" x2="102.04" y2="469.10" stroke="#e2b4b4" stroke-width="0.8" />
<line x1="33.80" y1="416.00" x2="102.04" y2="416.00" stroke="rgba(255,255,255,0.55)" stroke-width="0.8" />
<line x1="33.80" y1="425.00" x2="102.04" y2="425.00" stroke="rgba(255,255,255,0.55)" stroke-width="0.8" />
<line x1="33.80" y1="435.50" x2="102.04" y2="435.50" stroke="#e2b4b4" stroke-width="0.8" />
<line x1="33.80" y1="443.90" x2="102.04" y2="443.90" stroke="#e2b4b4" stroke-width="0.8" />
<line x1="33.80" y1="452.30" x2="102.04" y2="452.30" stroke="#e2b4b4" stroke-width="0.8" />
<line x1="33.80" y1="460.70" x2="102.04" y2="460.70" stroke="#e2b4b4" stroke-width="0.8" />
<line x1="33.80" y1="433.00" x2="102.04" y2="433.00" stroke="rgba(255,255,255,0.55)" stroke-width="0.8" />
<line x1="33.80" y1="469.10" x2="102.04" y2="469.10" stroke="#e2b4b4" stroke-width="0.8" />
<rect x="104.64" y="416.00" width="8.53" height="7.70" fill="#e8ec40" />
<rect x="104.64" y="425.00" width="8.53" height="8.00" fill="#b8b0d8" />
<rect x="104.64" y="435.50" width="8.53" height="8.40" fill="#e4fcf4" />
<rect x="104.64" y="443.90" width="8.53" height="8.40" fill="#2878d0" />
<rect x="104.64" y="452.30" width="8.53" height="8.40" fill="#2878d0" />
<rect x="104.64" y="460.70" width="8.53" height="8.40" fill="#3860d0" />
<text x="0" y="0" font-size="8.25" fill="#2a2a2a" style="color:#2a2a2a" transform="translate(104.50,475.60) rotate(45)">L−Isoleucine</text>
<rect x="113.17" y="416.00" width="8.53" height="7.70" fill="#e8ec40" />
<rect x="113.17" y="425.00" width="8.53" height="8.00" fill="#c8a8d0" />
<rect x="113.17" y="435.50" width="8.53" height="8.40" fill="#e4fcf4" />
<rect x="113.17" y="443.90" width="8.53" height="8.40" fill="#2878d0" />
<rect x="113.17" y="452.30" width="8.53" height="8.40" fill="#2878d0" />
<rect x="113.17" y="460.70" width="8.53" height="8.40" fill="#3860d0" />
<text x="0" y="0" font-size="8.25" fill="#2a2a2a" style="color:#2a2a2a" transform="translate(113.03,475.60) rotate(45)">L−Methionine</text>
<rect x="121.70" y="416.00" width="8.53" height="7.70" fill="#e8ec40" />
<rect x="121.70" y="425.00" width="8.53" height="8.00" fill="#b8b0d8" />
<rect x="121.70" y="435.50" width="8.53" height="8.40" fill="#e4fcf4" />
<rect x="121.70" y="443.90" width="8.53" height="8.40" fill="#2878d0" />
<rect x="121.70" y="452.30" width="8.53" height="8.40" fill="#3070d0" />
<rect x="121.70" y="460.70" width="8.53" height="8.40" fill="#f0f8f0" />
<text x="0" y="0" font-size="8.25" fill="#2a2a2a" style="color:#2a2a2a" transform="translate(121.56,475.60) rotate(45)">L−Tyrosine</text>
<rect x="130.23" y="416.00" width="8.53" height="7.70" fill="#e8ec40" />
<rect x="130.23" y="425.00" width="8.53" height="8.00" fill="#806058" />
<rect x="130.23" y="435.50" width="8.53" height="8.40" fill="#f4f4f0" />
<rect x="130.23" y="443.90" width="8.53" height="8.40" fill="#a8f8f0" />
<rect x="130.23" y="452.30" width="8.53" height="8.40" fill="#3a58d0" />
<rect x="130.23" y="460.70" width="8.53" height="8.40" fill="#3a58d0" />
<text x="0" y="0" font-size="8.25" fill="#2a2a2a" style="color:#2a2a2a" transform="translate(130.09,475.60) rotate(45)">Glyceric acid</text>
<line x1="104.64" y1="416.00" x2="104.64" y2="433.00" stroke="rgba(255,255,255,0.55)" stroke-width="0.8" />
<line x1="104.64" y1="435.50" x2="104.64" y2="469.10" stroke="#c4c4c4" stroke-width="0.8" />
<line x1="113.17" y1="416.00" x2="113.17" y2="433.00" stroke="rgba(255,255,255,0.55)" stroke-width="0.8" />
<line x1="113.17" y1="435.50" x2="113.17" y2="469.10" stroke="#c4c4c4" stroke-width="0.8" />
<line x1="121.70" y1="416.00" x2="121.70" y2="433.00" stroke="rgba(255,255,255,0.55)" stroke-width="0.8" />
<line x1="121.70" y1="435.50" x2="121.70" y2="469.10" stroke="#c4c4c4" stroke-width="0.8" />
<line x1="130.23" y1="416.00" x2="130.23" y2="433.00" stroke="rgba(255,255,255,0.55)" stroke-width="0.8" />
<line x1="130.23" y1="435.50" x2="130.23" y2="469.10" stroke="#c4c4c4" stroke-width="0.8" />
<line x1="138.76" y1="416.00" x2="138.76" y2="433.00" stroke="rgba(255,255,255,0.55)" stroke-width="0.8" />
<line x1="138.76" y1="435.50" x2="138.76" y2="469.10" stroke="#c4c4c4" stroke-width="0.8" />
<line x1="104.64" y1="416.00" x2="138.76" y2="416.00" stroke="rgba(255,255,255,0.55)" stroke-width="0.8" />
<line x1="104.64" y1="425.00" x2="138.76" y2="425.00" stroke="rgba(255,255,255,0.55)" stroke-width="0.8" />
<line x1="104.64" y1="435.50" x2="138.76" y2="435.50" stroke="#c4c4c4" stroke-width="0.8" />
<line x1="104.64" y1="443.90" x2="138.76" y2="443.90" stroke="#c4c4c4" stroke-width="0.8" />
<line x1="104.64" y1="452.30" x2="138.76" y2="452.30" stroke="#c4c4c4" stroke-width="0.8" />
<line x1="104.64" y1="460.70" x2="138.76" y2="460.70" stroke="#c4c4c4" stroke-width="0.8" />
<line x1="104.64" y1="433.00" x2="138.76" y2="433.00" stroke="rgba(255,255,255,0.55)" stroke-width="0.8" />
<line x1="104.64" y1="469.10" x2="138.76" y2="469.10" stroke="#c4c4c4" stroke-width="0.8" />
<rect x="141.36" y="416.00" width="8.53" height="7.70" fill="#8cc48c" />
<rect x="141.36" y="425.00" width="8.53" height="8.00" fill="#b0b8d8" />
<rect x="141.36" y="435.50" width="8.53" height="8.40" fill="#eafaf3" />
<rect x="141.36" y="443.90" width="8.53" height="8.40" fill="#eafaf3" />
<rect x="141.36" y="452.30" width="8.53" height="8.40" fill="#eafaf3" />
<rect x="141.36" y="460.70" width="8.53" height="8.40" fill="#3a50d0" />
<text x="0" y="0" font-size="8.25" fill="#2a2a2a" style="color:#2a2a2a" transform="translate(141.22,475.60) rotate(45)">L−Valine</text>
<rect x="149.89" y="416.00" width="8.53" height="7.70" fill="#8cc48c" />
<rect x="149.89" y="425.00" width="8.53" height="8.00" fill="#b0b8d8" />
<rect x="149.89" y="435.50" width="8.53" height="8.40" fill="#eafaf3" />
<rect x="149.89" y="443.90" width="8.53" height="8.40" fill="#eafaf3" />
<rect x="149.89" y="452.30" width="8.53" height="8.40" fill="#3a50d0" />
<rect x="149.89" y="460.70" width="8.53" height="8.40" fill="#eafaf3" />
<text x="0" y="0" font-size="8.25" fill="#2a2a2a" style="color:#2a2a2a" transform="translate(149.75,475.60) rotate(45)">Fumaric acid</text>
<rect x="158.42" y="416.00" width="8.53" height="7.70" fill="#8cc48c" />
<rect x="158.42" y="425.00" width="8.53" height="8.00" fill="#a8c0d8" />
<rect x="158.42" y="435.50" width="8.53" height="8.40" fill="#eafaf3" />
<rect x="158.42" y="443.90" width="8.53" height="8.40" fill="#3a50d0" />
<rect x="158.42" y="452.30" width="8.53" height="8.40" fill="#eafaf3" />
<rect x="158.42" y="460.70" width="8.53" height="8.40" fill="#eafaf3" />
<text x="0" y="0" font-size="8.25" fill="#2a2a2a" style="color:#2a2a2a" transform="translate(158.28,475.60) rotate(45)">Adenine</text>
<rect x="166.95" y="416.00" width="8.53" height="7.70" fill="#90c48c" />
<rect x="166.95" y="425.00" width="8.53" height="8.00" fill="#909888" />
<rect x="166.95" y="435.50" width="8.53" height="8.40" fill="#eafaf3" />
<rect x="166.95" y="443.90" width="8.53" height="8.40" fill="#eafaf3" />
<rect x="166.95" y="452.30" width="8.53" height="8.40" fill="#3a50d0" />
<rect x="166.95" y="460.70" width="8.53" height="8.40" fill="#eafaf3" />
<text x="0" y="0" font-size="8.25" fill="#2a2a2a" style="color:#2a2a2a" transform="translate(166.81,475.60) rotate(45)">L−Phenylalanine</text>
<rect x="175.48" y="416.00" width="8.53" height="7.70" fill="#98bc8c" />
<rect x="175.48" y="425.00" width="8.53" height="8.00" fill="#607050" />
<rect x="175.48" y="435.50" width="8.53" height="8.40" fill="#eafaf3" />
<rect x="175.48" y="443.90" width="8.53" height="8.40" fill="#eafaf3" />
<rect x="175.48" y="452.30" width="8.53" height="8.40" fill="#3a50d0" />
<rect x="175.48" y="460.70" width="8.53" height="8.40" fill="#eafaf3" />
<text x="0" y="0" font-size="8.25" fill="#2a2a2a" style="color:#2a2a2a" transform="translate(175.34,475.60) rotate(45)">myo−Inositol</text>
<line x1="141.36" y1="416.00" x2="141.36" y2="433.00" stroke="rgba(255,255,255,0.55)" stroke-width="0.8" />
<line x1="141.36" y1="435.50" x2="141.36" y2="469.10" stroke="#c4c4c4" stroke-width="0.8" />
<line x1="149.89" y1="416.00" x2="149.89" y2="433.00" stroke="rgba(255,255,255,0.55)" stroke-width="0.8" />
<line x1="149.89" y1="435.50" x2="149.89" y2="469.10" stroke="#c4c4c4" stroke-width="0.8" />
<line x1="158.42" y1="416.00" x2="158.42" y2="433.00" stroke="rgba(255,255,255,0.55)" stroke-width="0.8" />
<line x1="158.42" y1="435.50" x2="158.42" y2="469.10" stroke="#c4c4c4" stroke-width="0.8" />
<line x1="166.95" y1="416.00" x2="166.95" y2="433.00" stroke="rgba(255,255,255,0.55)" stroke-width="0.8" />
<line x1="166.95" y1="435.50" x2="166.95" y2="469.10" stroke="#c4c4c4" stroke-width="0.8" />
<line x1="175.48" y1="416.00" x2="175.48" y2="433.00" stroke="rgba(255,255,255,0.55)" stroke-width="0.8" />
<line x1="175.48" y1="435.50" x2="175.48" y2="469.10" stroke="#c4c4c4" stroke-width="0.8" />
<line x1="184.01" y1="416.00" x2="184.01" y2="433.00" stroke="rgba(255,255,255,0.55)" stroke-width="0.8" />
<line x1="184.01" y1="435.50" x2="184.01" y2="469.10" stroke="#c4c4c4" stroke-width="0.8" />
<line x1="141.36" y1="416.00" x2="184.01" y2="416.00" stroke="rgba(255,255,255,0.55)" stroke-width="0.8" />
<line x1="141.36" y1="425.00" x2="184.01" y2="425.00" stroke="rgba(255,255,255,0.55)" stroke-width="0.8" />
<line x1="141.36" y1="435.50" x2="184.01" y2="435.50" stroke="#c4c4c4" stroke-width="0.8" />
<line x1="141.36" y1="443.90" x2="184.01" y2="443.90" stroke="#c4c4c4" stroke-width="0.8" />
<line x1="141.36" y1="452.30" x2="184.01" y2="452.30" stroke="#c4c4c4" stroke-width="0.8" />
<line x1="141.36" y1="460.70" x2="184.01" y2="460.70" stroke="#c4c4c4" stroke-width="0.8" />
<line x1="141.36" y1="433.00" x2="184.01" y2="433.00" stroke="rgba(255,255,255,0.55)" stroke-width="0.8" />
<line x1="141.36" y1="469.10" x2="184.01" y2="469.10" stroke="#c4c4c4" stroke-width="0.8" />
<rect x="186.61" y="416.00" width="8.53" height="7.70" fill="#203c9c" />
<rect x="186.61" y="425.00" width="8.53" height="8.00" fill="#c8f0d0" />
<rect x="186.61" y="435.50" width="8.53" height="8.40" fill="#a09090" />
<rect x="186.61" y="443.90" width="8.53" height="8.40" fill="#90a080" />
<rect x="186.61" y="452.30" width="8.53" height="8.40" fill="#3a60d0" />
<rect x="186.61" y="460.70" width="8.53" height="8.40" fill="#3a60d0" />
<text x="0" y="0" font-size="8.25" fill="#2a2a2a" style="color:#2a2a2a" transform="translate(186.47,475.60) rotate(45)">Docosahexaenoic acid</text>
<rect x="195.14" y="416.00" width="8.53" height="7.70" fill="#203c9c" />
<rect x="195.14" y="425.00" width="8.53" height="8.00" fill="#c8f0d0" />
<rect x="195.14" y="435.50" width="8.53" height="8.40" fill="#98a090" />
<rect x="195.14" y="443.90" width="8.53" height="8.40" fill="#4a50d8" />
<rect x="195.14" y="452.30" width="8.53" height="8.40" fill="#a8a880" />
<rect x="195.14" y="460.70" width="8.53" height="8.40" fill="#3a58d8" />
<text x="0" y="0" font-size="8.25" fill="#2a2a2a" style="color:#2a2a2a" transform="translate(195.00,475.60) rotate(45)">Cholesterol</text>
<rect x="203.67" y="416.00" width="8.53" height="7.70" fill="#203c9c" />
<rect x="203.67" y="425.00" width="8.53" height="8.00" fill="#c8f0d0" />
<rect x="203.67" y="435.50" width="8.53" height="8.40" fill="#90a090" />
<rect x="203.67" y="443.90" width="8.53" height="8.40" fill="#4a50d8" />
<rect x="203.67" y="452.30" width="8.53" height="8.40" fill="#a8a880" />
<rect x="203.67" y="460.70" width="8.53" height="8.40" fill="#3a58d8" />
<text x="0" y="0" font-size="8.25" fill="#2a2a2a" style="color:#2a2a2a" transform="translate(203.53,475.60) rotate(45)">Stearic acid</text>
<rect x="212.20" y="416.00" width="8.53" height="7.70" fill="#203c9c" />
<rect x="212.20" y="425.00" width="8.53" height="8.00" fill="#c8f0d0" />
<rect x="212.20" y="435.50" width="8.53" height="8.40" fill="#cc9088" />
<rect x="212.20" y="443.90" width="8.53" height="8.40" fill="#70b870" />
<rect x="212.20" y="452.30" width="8.53" height="8.40" fill="#5050d8" />
<rect x="212.20" y="460.70" width="8.53" height="8.40" fill="#909890" />
<text x="0" y="0" font-size="8.25" fill="#2a2a2a" style="color:#2a2a2a" transform="translate(212.06,475.60) rotate(45)">1−Methyladenosine</text>
<rect x="220.73" y="416.00" width="8.53" height="7.70" fill="#203c9c" />
<rect x="220.73" y="425.00" width="8.53" height="8.00" fill="#c8f0d0" />
<rect x="220.73" y="435.50" width="8.53" height="8.40" fill="#e08880" />
<rect x="220.73" y="443.90" width="8.53" height="8.40" fill="#70b870" />
<rect x="220.73" y="452.30" width="8.53" height="8.40" fill="#5050d8" />
<rect x="220.73" y="460.70" width="8.53" height="8.40" fill="#909890" />
<text x="0" y="0" font-size="8.25" fill="#2a2a2a" style="color:#2a2a2a" transform="translate(220.59,475.60) rotate(45)">Xanthosine</text>
<rect x="229.26" y="416.00" width="8.53" height="7.70" fill="#203c9c" />
<rect x="229.26" y="425.00" width="8.53" height="8.00" fill="#c8f0d0" />
<rect x="229.26" y="435.50" width="8.53" height="8.40" fill="#e08880" />
<rect x="229.26" y="443.90" width="8.53" height="8.40" fill="#70b870" />
<rect x="229.26" y="452.30" width="8.53" height="8.40" fill="#5050d8" />
<rect x="229.26" y="460.70" width="8.53" height="8.40" fill="#909890" />
<text x="0" y="0" font-size="8.25" fill="#2a2a2a" style="color:#2a2a2a" transform="translate(229.12,475.60) rotate(45)">Adenosine</text>
<rect x="237.79" y="416.00" width="8.53" height="7.70" fill="#203c9c" />
<rect x="237.79" y="425.00" width="8.53" height="8.00" fill="#c8f0d0" />
<rect x="237.79" y="435.50" width="8.53" height="8.40" fill="#c09c80" />
<rect x="237.79" y="443.90" width="8.53" height="8.40" fill="#5848d0" />
<rect x="237.79" y="452.30" width="8.53" height="8.40" fill="#a8a880" />
<rect x="237.79" y="460.70" width="8.53" height="8.40" fill="#a89090" />
<text x="0" y="0" font-size="8.25" fill="#2a2a2a" style="color:#2a2a2a" transform="translate(237.65,475.60) rotate(45)">Inosine</text>
<rect x="246.32" y="416.00" width="8.53" height="7.70" fill="#203c9c" />
<rect x="246.32" y="425.00" width="8.53" height="8.00" fill="#a0d0d8" />
<rect x="246.32" y="435.50" width="8.53" height="8.40" fill="#c09880" />
<rect x="246.32" y="443.90" width="8.53" height="8.40" fill="#e8f8f4" />
<rect x="246.32" y="452.30" width="8.53" height="8.40" fill="#3060d0" />
<rect x="246.32" y="460.70" width="8.53" height="8.40" fill="#f8e8f0" />
<text x="0" y="0" font-size="8.25" fill="#2a2a2a" style="color:#2a2a2a" transform="translate(246.18,475.60) rotate(45)">N−Acetyl−L−aspartic acid</text>
<rect x="254.85" y="416.00" width="8.53" height="7.70" fill="#203c9c" />
<rect x="254.85" y="425.00" width="8.53" height="8.00" fill="#a0d0d8" />
<rect x="254.85" y="435.50" width="8.53" height="8.40" fill="#bca080" />
<rect x="254.85" y="443.90" width="8.53" height="8.40" fill="#2880d0" />
<rect x="254.85" y="452.30" width="8.53" height="8.40" fill="#2880d0" />
<rect x="254.85" y="460.70" width="8.53" height="8.40" fill="#7840c0" />
<text x="0" y="0" font-size="8.25" fill="#2a2a2a" style="color:#2a2a2a" transform="translate(254.71,475.60) rotate(45)">Creatinine</text>
<rect x="263.38" y="416.00" width="8.53" height="7.70" fill="#203c9c" />
<rect x="263.38" y="425.00" width="8.53" height="8.00" fill="#a0d0d8" />
<rect x="263.38" y="435.50" width="8.53" height="8.40" fill="#bca080" />
<rect x="263.38" y="443.90" width="8.53" height="8.40" fill="#3060d0" />
<rect x="263.38" y="452.30" width="8.53" height="8.40" fill="#d0fff0" />
<rect x="263.38" y="460.70" width="8.53" height="8.40" fill="#3a60d0" />
<text x="0" y="0" font-size="8.25" fill="#2a2a2a" style="color:#2a2a2a" transform="translate(263.25,475.60) rotate(45)">L−Lysine</text>
<rect x="271.91" y="416.00" width="8.53" height="7.70" fill="#203c9c" />
<rect x="271.91" y="425.00" width="8.53" height="8.00" fill="#a0d0d8" />
<rect x="271.91" y="435.50" width="8.53" height="8.40" fill="#b8a080" />
<rect x="271.91" y="443.90" width="8.53" height="8.40" fill="#6048d8" />
<rect x="271.91" y="452.30" width="8.53" height="8.40" fill="#b0a080" />
<rect x="271.91" y="460.70" width="8.53" height="8.40" fill="#fff0f0" />
<text x="0" y="0" font-size="8.25" fill="#2a2a2a" style="color:#2a2a2a" transform="translate(271.77,475.60) rotate(45)">L−Glutamine</text>
<rect x="280.44" y="416.00" width="8.53" height="7.70" fill="#203c9c" />
<rect x="280.44" y="425.00" width="8.53" height="8.00" fill="#a0d0d8" />
<rect x="280.44" y="435.50" width="8.53" height="8.40" fill="#bca080" />
<rect x="280.44" y="443.90" width="8.53" height="8.40" fill="#6048d8" />
<rect x="280.44" y="452.30" width="8.53" height="8.40" fill="#b0a080" />
<rect x="280.44" y="460.70" width="8.53" height="8.40" fill="#a09898" />
<text x="0" y="0" font-size="8.25" fill="#2a2a2a" style="color:#2a2a2a" transform="translate(280.31,475.60) rotate(45)">Creatine</text>
<rect x="288.97" y="416.00" width="8.53" height="7.70" fill="#203c9c" />
<rect x="288.97" y="425.00" width="8.53" height="8.00" fill="#a0d0d8" />
<rect x="288.97" y="435.50" width="8.53" height="8.40" fill="#a89890" />
<rect x="288.97" y="443.90" width="8.53" height="8.40" fill="#70b880" />
<rect x="288.97" y="452.30" width="8.53" height="8.40" fill="#3a60d0" />
<rect x="288.97" y="460.70" width="8.53" height="8.40" fill="#3a60d0" />
<text x="0" y="0" font-size="8.25" fill="#2a2a2a" style="color:#2a2a2a" transform="translate(288.83,475.60) rotate(45)">L−Cysteine</text>
<rect x="297.50" y="416.00" width="8.53" height="7.70" fill="#203c9c" />
<rect x="297.50" y="425.00" width="8.53" height="8.00" fill="#a0d0d8" />
<rect x="297.50" y="435.50" width="8.53" height="8.40" fill="#e09080" />
<rect x="297.50" y="443.90" width="8.53" height="8.40" fill="#70b880" />
<rect x="297.50" y="452.30" width="8.53" height="8.40" fill="#3a60d0" />
<rect x="297.50" y="460.70" width="8.53" height="8.40" fill="#3a60d0" />
<text x="0" y="0" font-size="8.25" fill="#2a2a2a" style="color:#2a2a2a" transform="translate(297.37,475.60) rotate(45)">L−Aspartic acid</text>
<rect x="306.03" y="416.00" width="8.53" height="7.70" fill="#203c9c" />
<rect x="306.03" y="425.00" width="8.53" height="8.00" fill="#a0d0d8" />
<rect x="306.03" y="435.50" width="8.53" height="8.40" fill="#e09080" />
<rect x="306.03" y="443.90" width="8.53" height="8.40" fill="#70b070" />
<rect x="306.03" y="452.30" width="8.53" height="8.40" fill="#4a50d0" />
<rect x="306.03" y="460.70" width="8.53" height="8.40" fill="#fff8f0" />
<text x="0" y="0" font-size="8.25" fill="#2a2a2a" style="color:#2a2a2a" transform="translate(305.89,475.60) rotate(45)">Malic acid</text>
<rect x="314.56" y="416.00" width="8.53" height="7.70" fill="#203c9c" />
<rect x="314.56" y="425.00" width="8.53" height="8.00" fill="#a0d0d8" />
<rect x="314.56" y="435.50" width="8.53" height="8.40" fill="#e09080" />
<rect x="314.56" y="443.90" width="8.53" height="8.40" fill="#70b070" />
<rect x="314.56" y="452.30" width="8.53" height="8.40" fill="#4a50d0" />
<rect x="314.56" y="460.70" width="8.53" height="8.40" fill="#fff8f0" />
<text x="0" y="0" font-size="8.25" fill="#2a2a2a" style="color:#2a2a2a" transform="translate(314.42,475.60) rotate(45)">L−Proline</text>
<rect x="323.09" y="416.00" width="8.53" height="7.70" fill="#203c9c" />
<rect x="323.09" y="425.00" width="8.53" height="8.00" fill="#a0d0d8" />
<rect x="323.09" y="435.50" width="8.53" height="8.40" fill="#fff0f4" />
<rect x="323.09" y="443.90" width="8.53" height="8.40" fill="#c89880" />
<rect x="323.09" y="452.30" width="8.53" height="8.40" fill="#c09080" />
<rect x="323.09" y="460.70" width="8.53" height="8.40" fill="#5050d8" />
<text x="0" y="0" font-size="8.25" fill="#2a2a2a" style="color:#2a2a2a" transform="translate(322.95,475.60) rotate(45)">Lactic acid</text>
<rect x="331.62" y="416.00" width="8.53" height="7.70" fill="#203c9c" />
<rect x="331.62" y="425.00" width="8.53" height="8.00" fill="#a0d0d8" />
<rect x="331.62" y="435.50" width="8.53" height="8.40" fill="#c8a080" />
<rect x="331.62" y="443.90" width="8.53" height="8.40" fill="#d89080" />
<rect x="331.62" y="452.30" width="8.53" height="8.40" fill="#d89080" />
<rect x="331.62" y="460.70" width="8.53" height="8.40" fill="#5050d8" />
<text x="0" y="0" font-size="8.25" fill="#2a2a2a" style="color:#2a2a2a" transform="translate(331.49,475.60) rotate(45)">D−Glutamic acid</text>
<rect x="340.15" y="416.00" width="8.53" height="7.70" fill="#203c9c" />
<rect x="340.15" y="425.00" width="8.53" height="8.00" fill="#507a50" />
<rect x="340.15" y="435.50" width="8.53" height="8.40" fill="#fff0f4" />
<rect x="340.15" y="443.90" width="8.53" height="8.40" fill="#a0b080" />
<rect x="340.15" y="452.30" width="8.53" height="8.40" fill="#5050d8" />
<rect x="340.15" y="460.70" width="8.53" height="8.40" fill="#5050d8" />
<text x="0" y="0" font-size="8.25" fill="#2a2a2a" style="color:#2a2a2a" transform="translate(340.01,475.60) rotate(45)">Pantothenic acid</text>
<rect x="348.68" y="416.00" width="8.53" height="7.70" fill="#203c9c" />
<rect x="348.68" y="425.00" width="8.53" height="8.00" fill="#507a50" />
<rect x="348.68" y="435.50" width="8.53" height="8.40" fill="#b09098" />
<rect x="348.68" y="443.90" width="8.53" height="8.40" fill="#c0a080" />
<rect x="348.68" y="452.30" width="8.53" height="8.40" fill="#b8a080" />
<rect x="348.68" y="460.70" width="8.53" height="8.40" fill="#3a50d0" />
<text x="0" y="0" font-size="8.25" fill="#2a2a2a" style="color:#2a2a2a" transform="translate(348.54,475.60) rotate(45)">D−Fructose</text>
<rect x="357.21" y="416.00" width="8.53" height="7.70" fill="#203c9c" />
<rect x="357.21" y="425.00" width="8.53" height="8.00" fill="#507a50" />
<rect x="357.21" y="435.50" width="8.53" height="8.40" fill="#b09098" />
<rect x="357.21" y="443.90" width="8.53" height="8.40" fill="#a0b080" />
<rect x="357.21" y="452.30" width="8.53" height="8.40" fill="#5050d8" />
<rect x="357.21" y="460.70" width="8.53" height="8.40" fill="#c09080" />
<text x="0" y="0" font-size="8.25" fill="#2a2a2a" style="color:#2a2a2a" transform="translate(357.07,475.60) rotate(45)">Sorbitol</text>
<line x1="186.61" y1="416.00" x2="186.61" y2="433.00" stroke="rgba(255,255,255,0.55)" stroke-width="0.8" />
<line x1="186.61" y1="435.50" x2="186.61" y2="469.10" stroke="#c4c4c4" stroke-width="0.8" />
<line x1="195.14" y1="416.00" x2="195.14" y2="433.00" stroke="rgba(255,255,255,0.55)" stroke-width="0.8" />
<line x1="195.14" y1="435.50" x2="195.14" y2="469.10" stroke="#c4c4c4" stroke-width="0.8" />
<line x1="203.67" y1="416.00" x2="203.67" y2="433.00" stroke="rgba(255,255,255,0.55)" stroke-width="0.8" />
<line x1="203.67" y1="435.50" x2="203.67" y2="469.10" stroke="#c4c4c4" stroke-width="0.8" />
<line x1="212.20" y1="416.00" x2="212.20" y2="433.00" stroke="rgba(255,255,255,0.55)" stroke-width="0.8" />
<line x1="212.20" y1="435.50" x2="212.20" y2="469.10" stroke="#c4c4c4" stroke-width="0.8" />
<line x1="220.73" y1="416.00" x2="220.73" y2="433.00" stroke="rgba(255,255,255,0.55)" stroke-width="0.8" />
<line x1="220.73" y1="435.50" x2="220.73" y2="469.10" stroke="#c4c4c4" stroke-width="0.8" />
<line x1="229.26" y1="416.00" x2="229.26" y2="433.00" stroke="rgba(255,255,255,0.55)" stroke-width="0.8" />
<line x1="229.26" y1="435.50" x2="229.26" y2="469.10" stroke="#c4c4c4" stroke-width="0.8" />
<line x1="237.79" y1="416.00" x2="237.79" y2="433.00" stroke="rgba(255,255,255,0.55)" stroke-width="0.8" />
<line x1="237.79" y1="435.50" x2="237.79" y2="469.10" stroke="#c4c4c4" stroke-width="0.8" />
<line x1="246.32" y1="416.00" x2="246.32" y2="433.00" stroke="rgba(255,255,255,0.55)" stroke-width="0.8" />
<line x1="246.32" y1="435.50" x2="246.32" y2="469.10" stroke="#c4c4c4" stroke-width="0.8" />
<line x1="254.85" y1="416.00" x2="254.85" y2="433.00" stroke="rgba(255,255,255,0.55)" stroke-width="0.8" />
<line x1="254.85" y1="435.50" x2="254.85" y2="469.10" stroke="#c4c4c4" stroke-width="0.8" />
<line x1="263.38" y1="416.00" x2="263.38" y2="433.00" stroke="rgba(255,255,255,0.55)" stroke-width="0.8" />
<line x1="263.38" y1="435.50" x2="263.38" y2="469.10" stroke="#c4c4c4" stroke-width="0.8" />
<line x1="271.91" y1="416.00" x2="271.91" y2="433.00" stroke="rgba(255,255,255,0.55)" stroke-width="0.8" />
<line x1="271.91" y1="435.50" x2="271.91" y2="469.10" stroke="#c4c4c4" stroke-width="0.8" />
<line x1="280.44" y1="416.00" x2="280.44" y2="433.00" stroke="rgba(255,255,255,0.55)" stroke-width="0.8" />
<line x1="280.44" y1="435.50" x2="280.44" y2="469.10" stroke="#c4c4c4" stroke-width="0.8" />
<line x1="288.97" y1="416.00" x2="288.97" y2="433.00" stroke="rgba(255,255,255,0.55)" stroke-width="0.8" />
<line x1="288.97" y1="435.50" x2="288.97" y2="469.10" stroke="#c4c4c4" stroke-width="0.8" />
<line x1="297.50" y1="416.00" x2="297.50" y2="433.00" stroke="rgba(255,255,255,0.55)" stroke-width="0.8" />
<line x1="297.50" y1="435.50" x2="297.50" y2="469.10" stroke="#c4c4c4" stroke-width="0.8" />
<line x1="306.03" y1="416.00" x2="306.03" y2="433.00" stroke="rgba(255,255,255,0.55)" stroke-width="0.8" />
<line x1="306.03" y1="435.50" x2="306.03" y2="469.10" stroke="#c4c4c4" stroke-width="0.8" />
<line x1="314.56" y1="416.00" x2="314.56" y2="433.00" stroke="rgba(255,255,255,0.55)" stroke-width="0.8" />
<line x1="314.56" y1="435.50" x2="314.56" y2="469.10" stroke="#c4c4c4" stroke-width="0.8" />
<line x1="323.09" y1="416.00" x2="323.09" y2="433.00" stroke="rgba(255,255,255,0.55)" stroke-width="0.8" />
<line x1="323.09" y1="435.50" x2="323.09" y2="469.10" stroke="#c4c4c4" stroke-width="0.8" />
<line x1="331.62" y1="416.00" x2="331.62" y2="433.00" stroke="rgba(255,255,255,0.55)" stroke-width="0.8" />
<line x1="331.62" y1="435.50" x2="331.62" y2="469.10" stroke="#c4c4c4" stroke-width="0.8" />
<line x1="340.15" y1="416.00" x2="340.15" y2="433.00" stroke="rgba(255,255,255,0.55)" stroke-width="0.8" />
<line x1="340.15" y1="435.50" x2="340.15" y2="469.10" stroke="#c4c4c4" stroke-width="0.8" />
<line x1="348.68" y1="416.00" x2="348.68" y2="433.00" stroke="rgba(255,255,255,0.55)" stroke-width="0.8" />
<line x1="348.68" y1="435.50" x2="348.68" y2="469.10" stroke="#c4c4c4" stroke-width="0.8" />
<line x1="357.21" y1="416.00" x2="357.21" y2="433.00" stroke="rgba(255,255,255,0.55)" stroke-width="0.8" />
<line x1="357.21" y1="435.50" x2="357.21" y2="469.10" stroke="#c4c4c4" stroke-width="0.8" />
<line x1="365.74" y1="416.00" x2="365.74" y2="433.00" stroke="rgba(255,255,255,0.55)" stroke-width="0.8" />
<line x1="365.74" y1="435.50" x2="365.74" y2="469.10" stroke="#c4c4c4" stroke-width="0.8" />
<line x1="186.61" y1="416.00" x2="365.74" y2="416.00" stroke="rgba(255,255,255,0.55)" stroke-width="0.8" />
<line x1="186.61" y1="425.00" x2="365.74" y2="425.00" stroke="rgba(255,255,255,0.55)" stroke-width="0.8" />
<line x1="186.61" y1="435.50" x2="365.74" y2="435.50" stroke="#c4c4c4" stroke-width="0.8" />
<line x1="186.61" y1="443.90" x2="365.74" y2="443.90" stroke="#c4c4c4" stroke-width="0.8" />
<line x1="186.61" y1="452.30" x2="365.74" y2="452.30" stroke="#c4c4c4" stroke-width="0.8" />
<line x1="186.61" y1="460.70" x2="365.74" y2="460.70" stroke="#c4c4c4" stroke-width="0.8" />
<line x1="186.61" y1="433.00" x2="365.74" y2="433.00" stroke="rgba(255,255,255,0.55)" stroke-width="0.8" />
<line x1="186.61" y1="469.10" x2="365.74" y2="469.10" stroke="#c4c4c4" stroke-width="0.8" />
<line x1="33.30" y1="434.30" x2="366.24" y2="434.30" stroke="#f8b8d0" stroke-width="1.4" />
<text x="32.00" y="442.50" font-size="7.8" text-anchor="end" font-weight="normal" fill="#2a2a2a" style="color:#2a2a2a" >Ovarian</text>
<text x="32.00" y="450.90" font-size="7.8" text-anchor="end" font-weight="normal" fill="#2a2a2a" style="color:#2a2a2a" >Breast</text>
<text x="32.00" y="459.30" font-size="7.8" text-anchor="end" font-weight="normal" fill="#2a2a2a" style="color:#2a2a2a" >Kidney</text>
<text x="32.00" y="467.70" font-size="7.8" text-anchor="end" font-weight="normal" fill="#2a2a2a" style="color:#2a2a2a" >Brain</text>
<text x="395.00" y="420.90" font-size="7.6" text-anchor="start" font-weight="bold" fill="#111" style="color:#111" >Change</text>
<rect x="395.90" y="425.50" width="10.00" height="9.08" fill="#f4f2ee" />
<text x="408.60" y="432.60" font-size="7.6" text-anchor="start" font-weight="normal" fill="#222" style="color:#222" >No Change</text>
<rect x="395.90" y="434.58" width="10.00" height="9.08" fill="#a89c80" />
<text x="408.60" y="441.68" font-size="7.6" text-anchor="start" font-weight="normal" fill="#222" style="color:#222" >Up</text>
<rect x="395.90" y="443.66" width="10.00" height="9.08" fill="#5450d0" />
<text x="408.60" y="450.76" font-size="7.6" text-anchor="start" font-weight="normal" fill="#222" style="color:#222" >Down</text>
<rect x="395.90" y="452.74" width="10.00" height="9.08" fill="#80a090" />
<text x="408.60" y="459.84" font-size="7.6" text-anchor="start" font-weight="normal" fill="#222" style="color:#222" >No Detect</text>
<text x="462.80" y="420.90" font-size="7.6" text-anchor="start" font-weight="bold" fill="#111" style="color:#111" >BMM</text>
<rect x="464.10" y="425.50" width="9.10" height="9.08" fill="#8a50c8" />
<text x="475.40" y="432.60" font-size="7.6" text-anchor="start" font-weight="normal" fill="#222" style="color:#222" >BMM_1</text>
<rect x="464.10" y="434.58" width="9.10" height="9.08" fill="#f0ee40" />
<text x="475.40" y="441.68" font-size="7.6" text-anchor="start" font-weight="normal" fill="#222" style="color:#222" >BMM_2</text>
<rect x="464.10" y="443.66" width="9.10" height="9.08" fill="#66c47c" />
<text x="475.40" y="450.76" font-size="7.6" text-anchor="start" font-weight="normal" fill="#222" style="color:#222" >BMM_3</text>
<rect x="464.10" y="452.74" width="9.10" height="9.08" fill="#1850a0" />
<text x="475.40" y="459.84" font-size="7.6" text-anchor="start" font-weight="normal" fill="#222" style="color:#222" >BMM_4</text>
<text x="396.40" y="477.00" font-size="7.6" text-anchor="start" font-weight="bold" fill="#111" style="color:#111" >Super Class</text>
<rect x="397.00" y="480.60" width="9.60" height="9.00" fill="#a8c0e0" />
<text x="409.00" y="487.50" font-size="7.6" text-anchor="start" font-weight="normal" fill="#222" style="color:#222" >Organic acids and derivatives</text>
<rect x="397.00" y="489.60" width="9.60" height="9.00" fill="#d0e8d8" />
<text x="409.00" y="496.50" font-size="7.6" text-anchor="start" font-weight="normal" fill="#222" style="color:#222" >Nucleosides, nucleotides, and analogues</text>
<rect x="397.00" y="498.60" width="9.60" height="9.00" fill="#a09890" />
<text x="409.00" y="505.50" font-size="7.6" text-anchor="start" font-weight="normal" fill="#222" style="color:#222" >Organoheterocyclic compounds</text>
<rect x="397.00" y="507.60" width="9.60" height="9.00" fill="#807060" />
<text x="409.00" y="514.50" font-size="7.6" text-anchor="start" font-weight="normal" fill="#222" style="color:#222" >Organic oxygen compounds</text>
<rect x="397.00" y="516.60" width="9.60" height="9.00" fill="#fbe8d0" />
<text x="409.00" y="523.50" font-size="7.6" text-anchor="start" font-weight="normal" fill="#222" style="color:#222" >Lipids and lipid−like molecules</text>
<text x="12.90" y="555.30" font-size="7.9" text-anchor="start" font-weight="bold" fill="#111" style="color:#111" >D</text>
<text x="13.20" y="680.00" font-size="7.9" text-anchor="start" font-weight="bold" fill="#111" style="color:#111" >E</text>
<line x1="42.90" y1="636.60" x2="145.50" y2="636.60" stroke="#ececec" stroke-width="0.6" />
<line x1="42.90" y1="626.74" x2="145.50" y2="626.74" stroke="#ececec" stroke-width="0.6" />
<line x1="42.90" y1="616.88" x2="145.50" y2="616.88" stroke="#ececec" stroke-width="0.6" />
<line x1="42.90" y1="607.02" x2="145.50" y2="607.02" stroke="#ececec" stroke-width="0.6" />
<line x1="42.90" y1="597.16" x2="145.50" y2="597.16" stroke="#ececec" stroke-width="0.6" />
<line x1="42.90" y1="587.30" x2="145.50" y2="587.30" stroke="#ececec" stroke-width="0.6" />
<line x1="42.90" y1="577.44" x2="145.50" y2="577.44" stroke="#ececec" stroke-width="0.6" />
<line x1="42.90" y1="567.58" x2="145.50" y2="567.58" stroke="#ececec" stroke-width="0.6" />
<line x1="42.90" y1="562.10" x2="42.90" y2="638.90" stroke="#222" stroke-width="0.9" />
<circle cx="42.90" cy="562.10" r="1.00" fill="#111"/>
<line x1="42.90" y1="638.90" x2="147.00" y2="638.90" stroke="#222" stroke-width="0.9" />
<path d="M149.50,638.90 L146.00,637.40 L146.00,640.40 Z" fill="#222"/>
<text x="40.80" y="580.40" font-size="8.0" text-anchor="end" font-weight="normal" fill="#222" style="color:#222" >24</text>
<text x="40.80" y="600.00" font-size="8.0" text-anchor="end" font-weight="normal" fill="#222" style="color:#222" >20</text>
<text x="40.80" y="619.80" font-size="8.0" text-anchor="end" font-weight="normal" fill="#222" style="color:#222" >16</text>
<text x="40.80" y="639.50" font-size="8.0" text-anchor="end" font-weight="normal" fill="#222" style="color:#222" >12</text>
<text x="95.40" y="555.00" font-size="7.8" text-anchor="middle" font-weight="normal" fill="#222" style="color:#222" >Citric acid</text>
<line x1="54.05" y1="598.70" x2="54.05" y2="636.60" stroke="#2c3440" stroke-width="0.8" />
<rect x="50.30" y="611.30" width="7.50" height="24.10" fill="#cddcf2" stroke="#2c3440" stroke-width="0.8"/>
<line x1="50.30" y1="621.90" x2="57.80" y2="621.90" stroke="#2c3440" stroke-width="0.9" />
<line x1="63.65" y1="601.10" x2="63.65" y2="634.90" stroke="#2a1a24" stroke-width="0.8" />
<rect x="59.50" y="610.10" width="8.30" height="10.60" fill="#4f2e45" stroke="#2a1a24" stroke-width="0.8"/>
<line x1="59.50" y1="616.00" x2="67.80" y2="616.00" stroke="#2a1a24" stroke-width="0.9" />
<line x1="78.85" y1="579.80" x2="78.85" y2="596.40" stroke="#2c3440" stroke-width="0.8" />
<rect x="75.10" y="586.40" width="7.50" height="5.70" fill="#cddcf2" stroke="#2c3440" stroke-width="0.8"/>
<line x1="75.10" y1="589.50" x2="82.60" y2="589.50" stroke="#2c3440" stroke-width="0.9" />
<line x1="88.20" y1="561.60" x2="88.20" y2="597.60" stroke="#2a1a24" stroke-width="0.8" />
<rect x="84.30" y="572.70" width="7.80" height="11.10" fill="#4f2e45" stroke="#2a1a24" stroke-width="0.8"/>
<line x1="84.30" y1="576.30" x2="92.10" y2="576.30" stroke="#2a1a24" stroke-width="0.9" />
<line x1="103.70" y1="594.70" x2="103.70" y2="606.50" stroke="#2c3440" stroke-width="0.8" />
<rect x="99.90" y="599.20" width="7.60" height="4.30" fill="#cddcf2" stroke="#2c3440" stroke-width="0.8"/>
<line x1="99.90" y1="601.50" x2="107.50" y2="601.50" stroke="#2c3440" stroke-width="0.9" />
<line x1="113.15" y1="584.60" x2="113.15" y2="593.50" stroke="#2a1a24" stroke-width="0.8" />
<rect x="109.40" y="588.10" width="7.50" height="2.90" fill="#4f2e45" stroke="#2a1a24" stroke-width="0.8"/>
<line x1="109.40" y1="589.50" x2="116.90" y2="589.50" stroke="#2a1a24" stroke-width="0.9" />
<line x1="129.00" y1="582.90" x2="129.00" y2="595.70" stroke="#2c3440" stroke-width="0.8" />
<rect x="125.20" y="586.90" width="7.60" height="5.20" fill="#cddcf2" stroke="#2c3440" stroke-width="0.8"/>
<line x1="125.20" y1="589.30" x2="132.80" y2="589.30" stroke="#2c3440" stroke-width="0.9" />
<line x1="138.35" y1="582.90" x2="138.35" y2="590.00" stroke="#2a1a24" stroke-width="0.8" />
<rect x="134.20" y="585.70" width="8.30" height="2.90" fill="#4f2e45" stroke="#2a1a24" stroke-width="0.8"/>
<line x1="134.20" y1="587.00" x2="142.50" y2="587.00" stroke="#2a1a24" stroke-width="0.9" />
<circle cx="59.00" cy="595.70" r="1.30" fill="#b08850"/>
<circle cx="83.40" cy="561.60" r="1.30" fill="#b08850"/>
<circle cx="108.00" cy="582.20" r="1.30" fill="#b08850"/>
<circle cx="133.50" cy="577.90" r="1.30" fill="#b08850"/>
<text x="58.80" y="648.80" font-size="7.8" text-anchor="middle" font-weight="normal" fill="#222" style="color:#222" >Breast</text>
<text x="84.60" y="648.80" font-size="7.8" text-anchor="middle" font-weight="normal" fill="#222" style="color:#222" >Kidney</text>
<text x="108.40" y="648.80" font-size="7.8" text-anchor="middle" font-weight="normal" fill="#222" style="color:#222" >Brain</text>
<text x="134.50" y="648.80" font-size="7.8" text-anchor="middle" font-weight="normal" fill="#222" style="color:#222" >Ovarian</text>
<line x1="167.40" y1="636.00" x2="272.10" y2="636.00" stroke="#ececec" stroke-width="0.6" />
<line x1="167.40" y1="623.60" x2="272.10" y2="623.60" stroke="#ececec" stroke-width="0.6" />
<line x1="167.40" y1="611.20" x2="272.10" y2="611.20" stroke="#ececec" stroke-width="0.6" />
<line x1="167.40" y1="598.80" x2="272.10" y2="598.80" stroke="#ececec" stroke-width="0.6" />
<line x1="167.40" y1="586.40" x2="272.10" y2="586.40" stroke="#ececec" stroke-width="0.6" />
<line x1="167.40" y1="574.00" x2="272.10" y2="574.00" stroke="#ececec" stroke-width="0.6" />
<line x1="167.40" y1="561.60" x2="272.10" y2="561.60" stroke="#ececec" stroke-width="0.6" />
<line x1="167.40" y1="561.60" x2="167.40" y2="638.80" stroke="#222" stroke-width="0.9" />
<circle cx="167.40" cy="561.60" r="1.00" fill="#111"/>
<line x1="167.40" y1="638.80" x2="273.60" y2="638.80" stroke="#222" stroke-width="0.9" />
<path d="M276.10,638.80 L272.60,637.30 L272.60,640.30 Z" fill="#222"/>
<text x="165.40" y="577.30" font-size="8.0" text-anchor="end" font-weight="normal" fill="#222" style="color:#222" >25</text>
<text x="165.40" y="601.90" font-size="8.0" text-anchor="end" font-weight="normal" fill="#222" style="color:#222" >20</text>
<text x="165.40" y="626.90" font-size="8.0" text-anchor="end" font-weight="normal" fill="#222" style="color:#222" >15</text>
<text x="220.60" y="556.00" font-size="7.8" text-anchor="middle" font-weight="normal" fill="#222" style="color:#222" >D−2−Hydroxyglutaric acid</text>
<line x1="175.00" y1="637.90" x2="182.70" y2="637.90" stroke="#2c3440" stroke-width="1.1" />
<line x1="187.90" y1="610.80" x2="187.90" y2="638.80" stroke="#3a1020" stroke-width="0.8" />
<rect x="183.70" y="624.00" width="8.40" height="14.60" fill="#a3214f" stroke="#3a1020" stroke-width="0.8"/>
<line x1="183.70" y1="628.60" x2="192.10" y2="628.60" stroke="#3a1020" stroke-width="0.9" />
<line x1="203.55" y1="587.00" x2="203.55" y2="601.60" stroke="#2c3440" stroke-width="0.8" />
<rect x="199.70" y="590.90" width="7.70" height="4.60" fill="#cddcf2" stroke="#2c3440" stroke-width="0.8"/>
<line x1="199.70" y1="593.00" x2="207.40" y2="593.00" stroke="#2c3440" stroke-width="0.9" />
<line x1="213.05" y1="578.20" x2="213.05" y2="593.00" stroke="#2a1a24" stroke-width="0.8" />
<rect x="209.10" y="584.50" width="7.90" height="7.20" fill="#4f2e45" stroke="#2a1a24" stroke-width="0.8"/>
<line x1="209.10" y1="588.00" x2="217.00" y2="588.00" stroke="#2a1a24" stroke-width="0.9" />
<line x1="228.20" y1="591.00" x2="228.20" y2="597.00" stroke="#2c3440" stroke-width="0.8" />
<rect x="224.40" y="592.90" width="7.60" height="1.80" fill="#cddcf2" stroke="#2c3440" stroke-width="0.8"/>
<line x1="224.40" y1="593.80" x2="232.00" y2="593.80" stroke="#2c3440" stroke-width="0.9" />
<line x1="237.65" y1="585.80" x2="237.65" y2="598.00" stroke="#2a1a24" stroke-width="0.8" />
<rect x="233.60" y="589.60" width="8.10" height="4.40" fill="#4f2e45" stroke="#2a1a24" stroke-width="0.8"/>
<line x1="233.60" y1="592.00" x2="241.70" y2="592.00" stroke="#2a1a24" stroke-width="0.9" />
<line x1="253.20" y1="603.60" x2="253.20" y2="610.00" stroke="#2c3440" stroke-width="0.8" />
<rect x="249.40" y="606.70" width="7.60" height="2.50" fill="#cddcf2" stroke="#2c3440" stroke-width="0.8"/>
<line x1="249.40" y1="608.00" x2="257.00" y2="608.00" stroke="#2c3440" stroke-width="0.9" />
<line x1="262.85" y1="599.80" x2="262.85" y2="612.50" stroke="#2a1a24" stroke-width="0.8" />
<rect x="259.00" y="604.90" width="7.70" height="4.30" fill="#4f2e45" stroke="#2a1a24" stroke-width="0.8"/>
<line x1="259.00" y1="607.00" x2="266.70" y2="607.00" stroke="#2a1a24" stroke-width="0.9" />
<circle cx="182.40" cy="607.40" r="1.30" fill="#b08850"/>
<circle cx="208.60" cy="576.90" r="1.30" fill="#b08850"/>
<text x="183.20" y="647.90" font-size="7.8" text-anchor="middle" font-weight="normal" fill="#222" style="color:#222" >Breast</text>
<text x="208.60" y="647.90" font-size="7.8" text-anchor="middle" font-weight="normal" fill="#222" style="color:#222" >Kidney</text>
<text x="232.80" y="647.90" font-size="7.8" text-anchor="middle" font-weight="normal" fill="#222" style="color:#222" >Brain</text>
<text x="258.30" y="647.90" font-size="7.8" text-anchor="middle" font-weight="normal" fill="#222" style="color:#222" >Ovarian</text>
<line x1="293.40" y1="636.70" x2="397.10" y2="636.70" stroke="#ececec" stroke-width="0.6" />
<line x1="293.40" y1="626.25" x2="397.10" y2="626.25" stroke="#ececec" stroke-width="0.6" />
<line x1="293.40" y1="615.80" x2="397.10" y2="615.80" stroke="#ececec" stroke-width="0.6" />
<line x1="293.40" y1="605.35" x2="397.10" y2="605.35" stroke="#ececec" stroke-width="0.6" />
<line x1="293.40" y1="594.90" x2="397.10" y2="594.90" stroke="#ececec" stroke-width="0.6" />
<line x1="293.40" y1="584.45" x2="397.10" y2="584.45" stroke="#ececec" stroke-width="0.6" />
<line x1="293.40" y1="574.00" x2="397.10" y2="574.00" stroke="#ececec" stroke-width="0.6" />
<line x1="293.40" y1="563.55" x2="397.10" y2="563.55" stroke="#ececec" stroke-width="0.6" />
<line x1="293.40" y1="562.40" x2="293.40" y2="638.80" stroke="#222" stroke-width="0.9" />
<circle cx="293.40" cy="562.40" r="1.00" fill="#111"/>
<line x1="293.40" y1="638.80" x2="398.60" y2="638.80" stroke="#222" stroke-width="0.9" />
<path d="M401.10,638.80 L397.60,637.30 L397.60,640.30 Z" fill="#222"/>
<text x="291.60" y="576.80" font-size="8.0" text-anchor="end" font-weight="normal" fill="#222" style="color:#222" >25</text>
<text x="291.60" y="597.60" font-size="8.0" text-anchor="end" font-weight="normal" fill="#222" style="color:#222" >20</text>
<text x="291.60" y="618.50" font-size="8.0" text-anchor="end" font-weight="normal" fill="#222" style="color:#222" >15</text>
<text x="291.60" y="639.60" font-size="8.0" text-anchor="end" font-weight="normal" fill="#222" style="color:#222" >10</text>
<text x="345.60" y="556.00" font-size="7.8" text-anchor="middle" font-weight="normal" fill="#222" style="color:#222" >Butyrylcarnitine</text>
<line x1="303.50" y1="596.50" x2="303.50" y2="615.60" stroke="#2c3440" stroke-width="0.8" />
<rect x="299.30" y="602.40" width="8.40" height="5.00" fill="#cddcf2" stroke="#2c3440" stroke-width="0.8"/>
<line x1="299.30" y1="605.00" x2="307.70" y2="605.00" stroke="#2c3440" stroke-width="0.9" />
<line x1="312.90" y1="592.20" x2="312.90" y2="609.20" stroke="#2a1a24" stroke-width="0.8" />
<rect x="308.70" y="598.50" width="8.40" height="4.60" fill="#4f2e45" stroke="#2a1a24" stroke-width="0.8"/>
<line x1="308.70" y1="601.00" x2="317.10" y2="601.00" stroke="#2a1a24" stroke-width="0.9" />
<line x1="328.55" y1="565.50" x2="328.55" y2="598.50" stroke="#2c3440" stroke-width="0.8" />
<rect x="324.70" y="572.60" width="7.70" height="12.70" fill="#cddcf2" stroke="#2c3440" stroke-width="0.8"/>
<line x1="324.70" y1="578.20" x2="332.40" y2="578.20" stroke="#2c3440" stroke-width="0.9" />
<line x1="337.70" y1="563.40" x2="337.70" y2="576.90" stroke="#2a1a24" stroke-width="0.8" />
<rect x="333.60" y="568.80" width="8.20" height="4.80" fill="#4f2e45" stroke="#2a1a24" stroke-width="0.8"/>
<line x1="333.60" y1="571.00" x2="341.80" y2="571.00" stroke="#2a1a24" stroke-width="0.9" />
<line x1="378.20" y1="585.30" x2="378.20" y2="636.70" stroke="#2c3440" stroke-width="0.8" />
<rect x="374.40" y="609.20" width="7.60" height="27.50" fill="#cddcf2" stroke="#2c3440" stroke-width="0.8"/>
<line x1="374.40" y1="636.00" x2="382.00" y2="636.00" stroke="#2c3440" stroke-width="0.9" />
<line x1="387.75" y1="585.30" x2="387.75" y2="636.70" stroke="#3a1020" stroke-width="0.8" />
<rect x="383.80" y="597.30" width="7.90" height="39.40" fill="#a3214f" stroke="#3a1020" stroke-width="0.8"/>
<line x1="383.80" y1="602.40" x2="391.70" y2="602.40" stroke="#3a1020" stroke-width="0.9" />
<circle cx="307.70" cy="591.70" r="1.30" fill="#b08850"/>
<circle cx="332.90" cy="562.40" r="1.30" fill="#b08850"/>
<circle cx="382.50" cy="582.80" r="1.30" fill="#b08850"/>
<text x="309.50" y="649.20" font-size="7.8" text-anchor="middle" font-weight="normal" fill="#222" style="color:#222" >Breast</text>
<text x="336.70" y="649.20" font-size="7.8" text-anchor="middle" font-weight="normal" fill="#222" style="color:#222" >Kidney</text>
<text x="384.50" y="649.20" font-size="7.8" text-anchor="middle" font-weight="normal" fill="#222" style="color:#222" >Ovarian</text>
<line x1="416.90" y1="637.60" x2="522.00" y2="637.60" stroke="#ececec" stroke-width="0.6" />
<line x1="416.90" y1="625.35" x2="522.00" y2="625.35" stroke="#ececec" stroke-width="0.6" />
<line x1="416.90" y1="613.10" x2="522.00" y2="613.10" stroke="#ececec" stroke-width="0.6" />
<line x1="416.90" y1="600.85" x2="522.00" y2="600.85" stroke="#ececec" stroke-width="0.6" />
<line x1="416.90" y1="588.60" x2="522.00" y2="588.60" stroke="#ececec" stroke-width="0.6" />
<line x1="416.90" y1="576.35" x2="522.00" y2="576.35" stroke="#ececec" stroke-width="0.6" />
<line x1="416.90" y1="564.10" x2="522.00" y2="564.10" stroke="#ececec" stroke-width="0.6" />
<line x1="416.90" y1="561.30" x2="416.90" y2="638.70" stroke="#222" stroke-width="0.9" />
<circle cx="416.90" cy="561.30" r="1.00" fill="#111"/>
<line x1="416.90" y1="638.70" x2="523.50" y2="638.70" stroke="#222" stroke-width="0.9" />
<path d="M526.00,638.70 L522.50,637.20 L522.50,640.20 Z" fill="#222"/>
<text x="415.00" y="566.90" font-size="8.0" text-anchor="end" font-weight="normal" fill="#222" style="color:#222" >25</text>
<text x="415.00" y="591.40" font-size="8.0" text-anchor="end" font-weight="normal" fill="#222" style="color:#222" >20</text>
<text x="415.00" y="616.00" font-size="8.0" text-anchor="end" font-weight="normal" fill="#222" style="color:#222" >15</text>
<text x="415.00" y="639.70" font-size="8.0" text-anchor="end" font-weight="normal" fill="#222" style="color:#222" >10</text>
<text x="469.50" y="555.90" font-size="7.8" text-anchor="middle" font-weight="normal" fill="#222" style="color:#222" >Cytidine monophosphate</text>
<line x1="424.50" y1="620.40" x2="432.20" y2="620.40" stroke="#2c3440" stroke-width="1.1" />
<line x1="437.10" y1="602.20" x2="437.10" y2="620.40" stroke="#2a1a24" stroke-width="0.8" />
<rect x="433.30" y="611.40" width="7.60" height="9.00" fill="#4f2e45" stroke="#2a1a24" stroke-width="0.8"/>
<line x1="433.30" y1="616.00" x2="440.90" y2="616.00" stroke="#2a1a24" stroke-width="0.9" />
<line x1="452.50" y1="575.00" x2="452.50" y2="583.00" stroke="#2c3440" stroke-width="0.8" />
<rect x="449.10" y="577.60" width="6.80" height="2.80" fill="#cddcf2" stroke="#2c3440" stroke-width="0.8"/>
<line x1="449.10" y1="579.00" x2="455.90" y2="579.00" stroke="#2c3440" stroke-width="0.9" />
<line x1="462.45" y1="563.20" x2="462.45" y2="585.00" stroke="#2a1a24" stroke-width="0.8" />
<rect x="458.60" y="569.50" width="7.70" height="7.30" fill="#4f2e45" stroke="#2a1a24" stroke-width="0.8"/>
<line x1="458.60" y1="573.00" x2="466.30" y2="573.00" stroke="#2a1a24" stroke-width="0.9" />
<line x1="502.80" y1="591.80" x2="502.80" y2="620.40" stroke="#2c3440" stroke-width="0.8" />
<rect x="498.70" y="602.20" width="8.20" height="10.10" fill="#cddcf2" stroke="#2c3440" stroke-width="0.8"/>
<line x1="498.70" y1="607.60" x2="506.90" y2="607.60" stroke="#2c3440" stroke-width="0.9" />
<line x1="512.20" y1="589.90" x2="512.20" y2="614.20" stroke="#2a1a24" stroke-width="0.8" />
<rect x="508.50" y="598.10" width="7.40" height="8.20" fill="#4f2e45" stroke="#2a1a24" stroke-width="0.8"/>
<line x1="508.50" y1="602.00" x2="515.90" y2="602.00" stroke="#2a1a24" stroke-width="0.9" />
<circle cx="431.40" cy="601.40" r="1.30" fill="#b08850"/>
<circle cx="456.70" cy="563.20" r="1.30" fill="#b08850"/>
<circle cx="507.20" cy="589.10" r="1.30" fill="#b08850"/>
<text x="439.80" y="647.20" font-size="7.8" text-anchor="middle" font-weight="normal" fill="#222" style="color:#222" >Breast</text>
<text x="465.00" y="647.20" font-size="7.8" text-anchor="middle" font-weight="normal" fill="#222" style="color:#222" >Kidney</text>
<text x="509.90" y="647.20" font-size="7.8" text-anchor="middle" font-weight="normal" fill="#222" style="color:#222" >Ovarian</text>
<line x1="42.70" y1="755.80" x2="145.50" y2="755.80" stroke="#ececec" stroke-width="0.6" />
<line x1="42.70" y1="747.74" x2="145.50" y2="747.74" stroke="#ececec" stroke-width="0.6" />
<line x1="42.70" y1="739.68" x2="145.50" y2="739.68" stroke="#ececec" stroke-width="0.6" />
<line x1="42.70" y1="731.62" x2="145.50" y2="731.62" stroke="#ececec" stroke-width="0.6" />
<line x1="42.70" y1="723.56" x2="145.50" y2="723.56" stroke="#ececec" stroke-width="0.6" />
<line x1="42.70" y1="715.50" x2="145.50" y2="715.50" stroke="#ececec" stroke-width="0.6" />
<line x1="42.70" y1="707.44" x2="145.50" y2="707.44" stroke="#ececec" stroke-width="0.6" />
<line x1="42.70" y1="699.38" x2="145.50" y2="699.38" stroke="#ececec" stroke-width="0.6" />
<line x1="42.70" y1="691.32" x2="145.50" y2="691.32" stroke="#ececec" stroke-width="0.6" />
<line x1="42.70" y1="683.26" x2="145.50" y2="683.26" stroke="#ececec" stroke-width="0.6" />
<line x1="42.70" y1="676.60" x2="42.70" y2="758.30" stroke="#222" stroke-width="0.9" />
<circle cx="42.70" cy="676.60" r="1.00" fill="#111"/>
<line x1="42.70" y1="758.30" x2="147.00" y2="758.30" stroke="#222" stroke-width="0.9" />
<path d="M149.50,758.30 L146.00,756.80 L146.00,759.80 Z" fill="#222"/>
<text x="40.90" y="686.40" font-size="8.0" text-anchor="end" font-weight="normal" fill="#222" style="color:#222" >32</text>
<text x="40.90" y="702.70" font-size="8.0" text-anchor="end" font-weight="normal" fill="#222" style="color:#222" >28</text>
<text x="40.90" y="719.10" font-size="8.0" text-anchor="end" font-weight="normal" fill="#222" style="color:#222" >24</text>
<text x="40.90" y="735.10" font-size="8.0" text-anchor="end" font-weight="normal" fill="#222" style="color:#222" >20</text>
<text x="40.90" y="750.70" font-size="8.0" text-anchor="end" font-weight="normal" fill="#222" style="color:#222" >16</text>
<text x="95.40" y="677.60" font-size="7.8" text-anchor="middle" font-weight="normal" fill="#222" style="color:#222" >L−Isoleucine</text>
<line x1="54.30" y1="710.40" x2="54.30" y2="722.20" stroke="#2c3440" stroke-width="0.8" />
<rect x="50.60" y="715.10" width="7.40" height="4.50" fill="#cddcf2" stroke="#2c3440" stroke-width="0.8"/>
<line x1="50.60" y1="717.50" x2="58.00" y2="717.50" stroke="#2c3440" stroke-width="0.9" />
<line x1="63.25" y1="714.30" x2="63.25" y2="724.10" stroke="#2a1a24" stroke-width="0.8" />
<rect x="59.30" y="717.50" width="7.90" height="3.40" fill="#4f2e45" stroke="#2a1a24" stroke-width="0.8"/>
<line x1="59.30" y1="719.00" x2="67.20" y2="719.00" stroke="#2a1a24" stroke-width="0.9" />
<rect x="75.10" y="691.10" width="7.90" height="1.60" fill="#cddcf2" stroke="#2c3440" stroke-width="0.8"/>
<line x1="88.05" y1="686.10" x2="88.05" y2="696.70" stroke="#2a1a24" stroke-width="0.8" />
<rect x="83.80" y="690.60" width="8.50" height="3.90" fill="#4f2e45" stroke="#2a1a24" stroke-width="0.8"/>
<line x1="83.80" y1="692.50" x2="92.30" y2="692.50" stroke="#2a1a24" stroke-width="0.9" />
<line x1="99.70" y1="715.60" x2="107.60" y2="715.60" stroke="#2c3440" stroke-width="1.1" />
<line x1="113.35" y1="717.00" x2="113.35" y2="728.30" stroke="#2a1a24" stroke-width="0.8" />
<rect x="109.40" y="720.40" width="7.90" height="4.50" fill="#4f2e45" stroke="#2a1a24" stroke-width="0.8"/>
<line x1="109.40" y1="722.50" x2="117.30" y2="722.50" stroke="#2a1a24" stroke-width="0.9" />
<line x1="128.90" y1="715.10" x2="128.90" y2="735.40" stroke="#2c3440" stroke-width="0.8" />
<rect x="125.20" y="723.00" width="7.40" height="6.60" fill="#cddcf2" stroke="#2c3440" stroke-width="0.8"/>
<line x1="125.20" y1="725.70" x2="132.60" y2="725.70" stroke="#2c3440" stroke-width="0.9" />
<line x1="138.15" y1="713.50" x2="138.15" y2="734.10" stroke="#2a1a24" stroke-width="0.8" />
<rect x="133.90" y="719.60" width="8.50" height="7.90" fill="#4f2e45" stroke="#2a1a24" stroke-width="0.8"/>
<line x1="133.90" y1="723.00" x2="142.40" y2="723.00" stroke="#2a1a24" stroke-width="0.9" />
<circle cx="58.50" cy="709.80" r="1.30" fill="#b08850"/>
<circle cx="83.80" cy="685.30" r="1.30" fill="#b08850"/>
<circle cx="108.90" cy="711.20" r="1.30" fill="#b08850"/>
<text x="60.60" y="767.80" font-size="7.8" text-anchor="middle" font-weight="normal" fill="#222" style="color:#222" >Breast</text>
<text x="86.50" y="767.80" font-size="7.8" text-anchor="middle" font-weight="normal" fill="#222" style="color:#222" >Kidney</text>
<text x="108.60" y="767.80" font-size="7.8" text-anchor="middle" font-weight="normal" fill="#222" style="color:#222" >Brain</text>
<text x="134.50" y="767.80" font-size="7.8" text-anchor="middle" font-weight="normal" fill="#222" style="color:#222" >Ovarian</text>
<line x1="166.40" y1="753.90" x2="271.80" y2="753.90" stroke="#ececec" stroke-width="0.6" />
<line x1="166.40" y1="744.65" x2="271.80" y2="744.65" stroke="#ececec" stroke-width="0.6" />
<line x1="166.40" y1="735.40" x2="271.80" y2="735.40" stroke="#ececec" stroke-width="0.6" />
<line x1="166.40" y1="726.15" x2="271.80" y2="726.15" stroke="#ececec" stroke-width="0.6" />
<line x1="166.40" y1="716.90" x2="271.80" y2="716.90" stroke="#ececec" stroke-width="0.6" />
<line x1="166.40" y1="707.65" x2="271.80" y2="707.65" stroke="#ececec" stroke-width="0.6" />
<line x1="166.40" y1="698.40" x2="271.80" y2="698.40" stroke="#ececec" stroke-width="0.6" />
<line x1="166.40" y1="689.15" x2="271.80" y2="689.15" stroke="#ececec" stroke-width="0.6" />
<line x1="166.40" y1="679.90" x2="271.80" y2="679.90" stroke="#ececec" stroke-width="0.6" />
<line x1="166.40" y1="676.60" x2="166.40" y2="758.30" stroke="#222" stroke-width="0.9" />
<circle cx="166.40" cy="676.60" r="1.00" fill="#111"/>
<line x1="166.40" y1="758.30" x2="273.30" y2="758.30" stroke="#222" stroke-width="0.9" />
<path d="M275.80,758.30 L272.30,756.80 L272.30,759.80 Z" fill="#222"/>
<text x="165.00" y="682.90" font-size="8.0" text-anchor="end" font-weight="normal" fill="#222" style="color:#222" >30</text>
<text x="165.00" y="701.40" font-size="8.0" text-anchor="end" font-weight="normal" fill="#222" style="color:#222" >25</text>
<text x="165.00" y="719.90" font-size="8.0" text-anchor="end" font-weight="normal" fill="#222" style="color:#222" >20</text>
<text x="165.00" y="738.30" font-size="8.0" text-anchor="end" font-weight="normal" fill="#222" style="color:#222" >15</text>
<text x="165.00" y="756.80" font-size="8.0" text-anchor="end" font-weight="normal" fill="#222" style="color:#222" >10</text>
<text x="220.40" y="672.30" font-size="7.8" text-anchor="middle" font-weight="normal" fill="#222" style="color:#222" >L−Methionine</text>
<line x1="178.65" y1="706.40" x2="178.65" y2="716.20" stroke="#2c3440" stroke-width="0.8" />
<rect x="175.10" y="709.60" width="7.10" height="3.40" fill="#cddcf2" stroke="#2c3440" stroke-width="0.8"/>
<line x1="175.10" y1="711.50" x2="182.20" y2="711.50" stroke="#2c3440" stroke-width="0.9" />
<line x1="187.70" y1="707.70" x2="187.70" y2="717.00" stroke="#2a1a24" stroke-width="0.8" />
<rect x="184.00" y="710.40" width="7.40" height="3.90" fill="#4f2e45" stroke="#2a1a24" stroke-width="0.8"/>
<line x1="184.00" y1="712.50" x2="191.40" y2="712.50" stroke="#2a1a24" stroke-width="0.9" />
<line x1="200.10" y1="682.60" x2="208.00" y2="682.60" stroke="#2c3440" stroke-width="1.1" />
<line x1="213.05" y1="681.00" x2="213.05" y2="686.50" stroke="#2a1a24" stroke-width="0.8" />
<rect x="209.10" y="682.70" width="7.90" height="2.60" fill="#4f2e45" stroke="#2a1a24" stroke-width="0.8"/>
<line x1="209.10" y1="684.00" x2="217.00" y2="684.00" stroke="#2a1a24" stroke-width="0.9" />
<line x1="224.40" y1="705.15" x2="232.30" y2="705.15" stroke="#2c3440" stroke-width="1.1" />
<line x1="237.80" y1="707.70" x2="237.80" y2="722.20" stroke="#2a1a24" stroke-width="0.8" />
<rect x="234.10" y="711.20" width="7.40" height="6.30" fill="#4f2e45" stroke="#2a1a24" stroke-width="0.8"/>
<line x1="234.10" y1="714.00" x2="241.50" y2="714.00" stroke="#2a1a24" stroke-width="0.9" />
<line x1="250.20" y1="753.85" x2="257.30" y2="753.85" stroke="#2c3440" stroke-width="1.1" />
<line x1="262.55" y1="719.60" x2="262.55" y2="753.90" stroke="#3a1020" stroke-width="0.8" />
<rect x="258.60" y="733.60" width="7.90" height="20.30" fill="#a3214f" stroke="#3a1020" stroke-width="0.8"/>
<line x1="258.60" y1="740.00" x2="266.50" y2="740.00" stroke="#3a1020" stroke-width="0.9" />
<circle cx="183.50" cy="705.10" r="1.30" fill="#b08850"/>
<circle cx="208.00" cy="678.20" r="1.30" fill="#b08850"/>
<circle cx="233.60" cy="702.50" r="1.30" fill="#b08850"/>
<text x="182.20" y="767.20" font-size="7.8" text-anchor="middle" font-weight="normal" fill="#222" style="color:#222" >Breast</text>
<text x="208.00" y="767.20" font-size="7.8" text-anchor="middle" font-weight="normal" fill="#222" style="color:#222" >Kidney</text>
<text x="232.30" y="767.20" font-size="7.8" text-anchor="middle" font-weight="normal" fill="#222" style="color:#222" >Brain</text>
<text x="257.80" y="767.20" font-size="7.8" text-anchor="middle" font-weight="normal" fill="#222" style="color:#222" >Ovarian</text>
<line x1="291.60" y1="753.90" x2="395.20" y2="753.90" stroke="#ececec" stroke-width="0.6" />
<line x1="291.60" y1="744.50" x2="395.20" y2="744.50" stroke="#ececec" stroke-width="0.6" />
<line x1="291.60" y1="735.10" x2="395.20" y2="735.10" stroke="#ececec" stroke-width="0.6" />
<line x1="291.60" y1="725.70" x2="395.20" y2="725.70" stroke="#ececec" stroke-width="0.6" />
<line x1="291.60" y1="716.30" x2="395.20" y2="716.30" stroke="#ececec" stroke-width="0.6" />
<line x1="291.60" y1="706.90" x2="395.20" y2="706.90" stroke="#ececec" stroke-width="0.6" />
<line x1="291.60" y1="697.50" x2="395.20" y2="697.50" stroke="#ececec" stroke-width="0.6" />
<line x1="291.60" y1="688.10" x2="395.20" y2="688.10" stroke="#ececec" stroke-width="0.6" />
<line x1="291.60" y1="678.70" x2="395.20" y2="678.70" stroke="#ececec" stroke-width="0.6" />
<line x1="291.60" y1="676.10" x2="291.60" y2="758.30" stroke="#222" stroke-width="0.9" />
<circle cx="291.60" cy="676.10" r="1.00" fill="#111"/>
<line x1="291.60" y1="758.30" x2="396.70" y2="758.30" stroke="#222" stroke-width="0.9" />
<path d="M399.20,758.30 L395.70,756.80 L395.70,759.80 Z" fill="#222"/>
<text x="289.80" y="681.60" font-size="8.0" text-anchor="end" font-weight="normal" fill="#222" style="color:#222" >30</text>
<text x="289.80" y="700.60" font-size="8.0" text-anchor="end" font-weight="normal" fill="#222" style="color:#222" >25</text>
<text x="289.80" y="719.90" font-size="8.0" text-anchor="end" font-weight="normal" fill="#222" style="color:#222" >20</text>
<text x="289.80" y="738.30" font-size="8.0" text-anchor="end" font-weight="normal" fill="#222" style="color:#222" >15</text>
<text x="289.80" y="756.80" font-size="8.0" text-anchor="end" font-weight="normal" fill="#222" style="color:#222" >10</text>
<text x="345.10" y="672.30" font-size="7.8" text-anchor="middle" font-weight="normal" fill="#222" style="color:#222" >myo−Inositol</text>
<line x1="303.20" y1="701.10" x2="303.20" y2="711.70" stroke="#2c3440" stroke-width="0.8" />
<rect x="299.50" y="704.60" width="7.40" height="3.10" fill="#cddcf2" stroke="#2c3440" stroke-width="0.8"/>
<line x1="299.50" y1="706.00" x2="306.90" y2="706.00" stroke="#2c3440" stroke-width="0.9" />
<line x1="312.45" y1="703.80" x2="312.45" y2="709.00" stroke="#2a1a24" stroke-width="0.8" />
<rect x="308.80" y="705.10" width="7.30" height="2.10" fill="#4f2e45" stroke="#2a1a24" stroke-width="0.8"/>
<line x1="308.80" y1="706.20" x2="316.10" y2="706.20" stroke="#2a1a24" stroke-width="0.9" />
<line x1="328.00" y1="680.80" x2="328.00" y2="694.00" stroke="#2c3440" stroke-width="0.8" />
<rect x="324.00" y="686.10" width="8.00" height="5.30" fill="#cddcf2" stroke="#2c3440" stroke-width="0.8"/>
<line x1="324.00" y1="689.00" x2="332.00" y2="689.00" stroke="#2c3440" stroke-width="0.9" />
<line x1="337.75" y1="684.50" x2="337.75" y2="702.50" stroke="#2a1a24" stroke-width="0.8" />
<rect x="333.80" y="689.30" width="7.90" height="7.40" fill="#4f2e45" stroke="#2a1a24" stroke-width="0.8"/>
<line x1="333.80" y1="692.00" x2="341.70" y2="692.00" stroke="#2a1a24" stroke-width="0.9" />
<rect x="349.10" y="692.70" width="7.40" height="2.40" fill="#cddcf2" stroke="#2c3440" stroke-width="0.8"/>
<line x1="349.10" y1="693.90" x2="356.50" y2="693.90" stroke="#2c3440" stroke-width="0.9" />
<line x1="362.25" y1="691.90" x2="362.25" y2="699.80" stroke="#2a1a24" stroke-width="0.8" />
<rect x="358.30" y="693.20" width="7.90" height="3.20" fill="#4f2e45" stroke="#2a1a24" stroke-width="0.8"/>
<line x1="358.30" y1="694.80" x2="366.20" y2="694.80" stroke="#2a1a24" stroke-width="0.9" />
<line x1="374.10" y1="753.85" x2="382.00" y2="753.85" stroke="#2c3440" stroke-width="1.1" />
<line x1="383.40" y1="753.85" x2="390.70" y2="753.85" stroke="#2a1a24" stroke-width="1.1" />
<circle cx="333.30" cy="680.00" r="1.30" fill="#b08850"/>
<text x="309.00" y="767.20" font-size="7.8" text-anchor="middle" font-weight="normal" fill="#222" style="color:#222" >Breast</text>
<text x="334.60" y="767.20" font-size="7.8" text-anchor="middle" font-weight="normal" fill="#222" style="color:#222" >Kidney</text>
<text x="359.10" y="767.20" font-size="7.8" text-anchor="middle" font-weight="normal" fill="#222" style="color:#222" >Brain</text>
<text x="384.70" y="767.20" font-size="7.8" text-anchor="middle" font-weight="normal" fill="#222" style="color:#222" >Ovarian</text>
<line x1="416.40" y1="753.70" x2="522.00" y2="753.70" stroke="#ececec" stroke-width="0.6" />
<line x1="416.40" y1="743.05" x2="522.00" y2="743.05" stroke="#ececec" stroke-width="0.6" />
<line x1="416.40" y1="732.40" x2="522.00" y2="732.40" stroke="#ececec" stroke-width="0.6" />
<line x1="416.40" y1="721.75" x2="522.00" y2="721.75" stroke="#ececec" stroke-width="0.6" />
<line x1="416.40" y1="711.10" x2="522.00" y2="711.10" stroke="#ececec" stroke-width="0.6" />
<line x1="416.40" y1="700.45" x2="522.00" y2="700.45" stroke="#ececec" stroke-width="0.6" />
<line x1="416.40" y1="689.80" x2="522.00" y2="689.80" stroke="#ececec" stroke-width="0.6" />
<line x1="416.40" y1="679.15" x2="522.00" y2="679.15" stroke="#ececec" stroke-width="0.6" />
<line x1="416.40" y1="675.50" x2="416.40" y2="758.10" stroke="#222" stroke-width="0.9" />
<circle cx="416.40" cy="675.50" r="1.00" fill="#111"/>
<line x1="416.40" y1="758.10" x2="523.50" y2="758.10" stroke="#222" stroke-width="0.9" />
<path d="M526.00,758.10 L522.50,756.60 L522.50,759.60 Z" fill="#222"/>
<text x="414.20" y="692.80" font-size="8.0" text-anchor="end" font-weight="normal" fill="#222" style="color:#222" >25</text>
<text x="414.20" y="714.30" font-size="8.0" text-anchor="end" font-weight="normal" fill="#222" style="color:#222" >20</text>
<text x="414.20" y="735.60" font-size="8.0" text-anchor="end" font-weight="normal" fill="#222" style="color:#222" >15</text>
<text x="414.20" y="756.60" font-size="8.0" text-anchor="end" font-weight="normal" fill="#222" style="color:#222" >10</text>
<text x="470.40" y="672.00" font-size="7.8" text-anchor="middle" font-weight="normal" fill="#222" style="color:#222" >Fumaric acid</text>
<line x1="428.35" y1="725.40" x2="428.35" y2="739.50" stroke="#2c3440" stroke-width="0.8" />
<rect x="424.50" y="730.80" width="7.70" height="6.00" fill="#cddcf2" stroke="#2c3440" stroke-width="0.8"/>
<line x1="424.50" y1="732.70" x2="432.20" y2="732.70" stroke="#2c3440" stroke-width="0.9" />
<line x1="437.40" y1="724.50" x2="437.40" y2="739.50" stroke="#2a1a24" stroke-width="0.8" />
<rect x="433.30" y="728.60" width="8.20" height="6.00" fill="#4f2e45" stroke="#2a1a24" stroke-width="0.8"/>
<line x1="433.30" y1="731.50" x2="441.50" y2="731.50" stroke="#2a1a24" stroke-width="0.9" />
<rect x="448.50" y="683.10" width="8.00" height="1.40" fill="#cddcf2" stroke="#2c3440" stroke-width="0.8"/>
<line x1="462.20" y1="682.30" x2="462.20" y2="693.20" stroke="#2a1a24" stroke-width="0.8" />
<rect x="458.10" y="685.00" width="8.20" height="4.60" fill="#4f2e45" stroke="#2a1a24" stroke-width="0.8"/>
<line x1="458.10" y1="687.00" x2="466.30" y2="687.00" stroke="#2a1a24" stroke-width="0.9" />
<rect x="474.20" y="704.60" width="7.60" height="2.80" fill="#cddcf2" stroke="#2c3440" stroke-width="0.8"/>
<line x1="474.20" y1="705.90" x2="481.80" y2="705.90" stroke="#2c3440" stroke-width="0.9" />
<line x1="487.30" y1="697.30" x2="487.30" y2="713.60" stroke="#2a1a24" stroke-width="0.8" />
<rect x="483.20" y="701.40" width="8.20" height="5.40" fill="#4f2e45" stroke="#2a1a24" stroke-width="0.8"/>
<line x1="483.20" y1="704.00" x2="491.40" y2="704.00" stroke="#2a1a24" stroke-width="0.9" />
<line x1="502.80" y1="721.80" x2="502.80" y2="732.70" stroke="#2c3440" stroke-width="0.8" />
<rect x="498.70" y="725.90" width="8.20" height="4.10" fill="#cddcf2" stroke="#2c3440" stroke-width="0.8"/>
<line x1="498.70" y1="728.00" x2="506.90" y2="728.00" stroke="#2c3440" stroke-width="0.9" />
<line x1="512.20" y1="719.10" x2="512.20" y2="734.10" stroke="#2a1a24" stroke-width="0.8" />
<rect x="508.50" y="725.40" width="7.40" height="5.40" fill="#4f2e45" stroke="#2a1a24" stroke-width="0.8"/>
<line x1="508.50" y1="728.00" x2="515.90" y2="728.00" stroke="#2a1a24" stroke-width="0.9" />
<circle cx="457.30" cy="679.00" r="1.30" fill="#b08850"/>
<text x="434.10" y="768.20" font-size="7.8" text-anchor="middle" font-weight="normal" fill="#222" style="color:#222" >Breast</text>
<text x="460.50" y="768.20" font-size="7.8" text-anchor="middle" font-weight="normal" fill="#222" style="color:#222" >Kidney</text>
<text x="483.20" y="768.20" font-size="7.8" text-anchor="middle" font-weight="normal" fill="#222" style="color:#222" >Brain</text>
<text x="509.10" y="768.20" font-size="7.8" text-anchor="middle" font-weight="normal" fill="#222" style="color:#222" >Ovarian</text>
<text x="225.30" y="787.00" font-size="7.8" text-anchor="start" font-weight="bold" fill="#111" style="color:#111" >Type</text>
<line x1="257.65" y1="777.50" x2="257.65" y2="791.50" stroke="#2c3440" stroke-width="0.8" />
<rect x="251.50" y="780.60" width="12.30" height="7.80" fill="#cddcf2" stroke="#2c3440" stroke-width="0.8"/>
<line x1="251.50" y1="784.50" x2="263.80" y2="784.50" stroke="#2c3440" stroke-width="0.9" />
<text x="269.60" y="787.00" font-size="7.8" text-anchor="start" font-weight="normal" fill="#222" style="color:#222" >Normal</text>
<line x1="313.25" y1="777.50" x2="313.25" y2="791.50" stroke="#2a1a24" stroke-width="0.8" />
<rect x="307.00" y="780.60" width="12.50" height="7.80" fill="#4f2e45" stroke="#2a1a24" stroke-width="0.8"/>
<line x1="307.00" y1="784.50" x2="319.50" y2="784.50" stroke="#2a1a24" stroke-width="0.9" />
<text x="325.20" y="787.00" font-size="7.8" text-anchor="start" font-weight="normal" fill="#222" style="color:#222" >Tumor</text>
</svg></body></html>
